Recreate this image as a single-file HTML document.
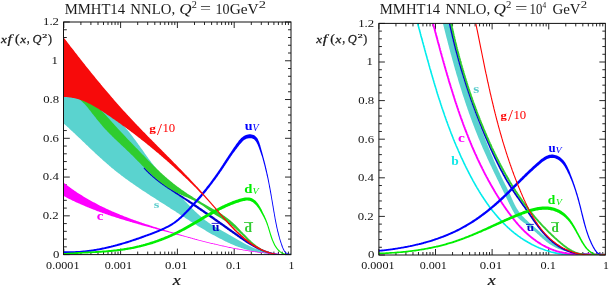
<!DOCTYPE html>
<html><head><meta charset="utf-8"><style>
html,body{margin:0;padding:0;background:#fff;width:610px;height:289px;overflow:hidden}
svg{display:block;will-change:transform}
text{font-family:"Liberation Serif",serif}
.t{font-size:11.5px;fill:#111}
.lb{font-size:11.5px}
.sub{font-size:8.5px}
.ti{font-size:14px;fill:#222}
.sup{font-size:9.5px}
.ax{font-size:12px;fill:#222}
.sup2{font-size:8.5px}
</style></head><body>
<svg xmlns="http://www.w3.org/2000/svg" width="610" height="289" viewBox="0 0 610 289">
<defs>
<clipPath id="cl"><rect x="63.80" y="22.00" width="227.20" height="232.60"/></clipPath>
<clipPath id="cr"><rect x="378.90" y="23.40" width="226.45" height="231.60"/></clipPath>
</defs>
<rect width="610" height="289" fill="#fff"/>
<path d="M63.80 254.60L63.80 248.60M63.80 22.00L63.80 28.00M80.90 254.60L80.90 251.60M80.90 22.00L80.90 25.00M90.90 254.60L90.90 251.60M90.90 22.00L90.90 25.00M98.00 254.60L98.00 251.60M98.00 22.00L98.00 25.00M103.50 254.60L103.50 251.60M103.50 22.00L103.50 25.00M108.00 254.60L108.00 251.60M108.00 22.00L108.00 25.00M111.80 254.60L111.80 251.60M111.80 22.00L111.80 25.00M115.10 254.60L115.10 251.60M115.10 22.00L115.10 25.00M118.00 254.60L118.00 251.60M118.00 22.00L118.00 25.00M120.60 254.60L120.60 248.60M120.60 22.00L120.60 28.00M137.70 254.60L137.70 251.60M137.70 22.00L137.70 25.00M147.70 254.60L147.70 251.60M147.70 22.00L147.70 25.00M154.80 254.60L154.80 251.60M154.80 22.00L154.80 25.00M160.30 254.60L160.30 251.60M160.30 22.00L160.30 25.00M164.80 254.60L164.80 251.60M164.80 22.00L164.80 25.00M168.60 254.60L168.60 251.60M168.60 22.00L168.60 25.00M171.90 254.60L171.90 251.60M171.90 22.00L171.90 25.00M174.80 254.60L174.80 251.60M174.80 22.00L174.80 25.00M177.40 254.60L177.40 248.60M177.40 22.00L177.40 28.00M194.50 254.60L194.50 251.60M194.50 22.00L194.50 25.00M204.50 254.60L204.50 251.60M204.50 22.00L204.50 25.00M211.60 254.60L211.60 251.60M211.60 22.00L211.60 25.00M217.10 254.60L217.10 251.60M217.10 22.00L217.10 25.00M221.60 254.60L221.60 251.60M221.60 22.00L221.60 25.00M225.40 254.60L225.40 251.60M225.40 22.00L225.40 25.00M228.70 254.60L228.70 251.60M228.70 22.00L228.70 25.00M231.60 254.60L231.60 251.60M231.60 22.00L231.60 25.00M234.20 254.60L234.20 248.60M234.20 22.00L234.20 28.00M251.30 254.60L251.30 251.60M251.30 22.00L251.30 25.00M261.30 254.60L261.30 251.60M261.30 22.00L261.30 25.00M268.40 254.60L268.40 251.60M268.40 22.00L268.40 25.00M273.90 254.60L273.90 251.60M273.90 22.00L273.90 25.00M278.40 254.60L278.40 251.60M278.40 22.00L278.40 25.00M282.20 254.60L282.20 251.60M282.20 22.00L282.20 25.00M285.50 254.60L285.50 251.60M285.50 22.00L285.50 25.00M288.40 254.60L288.40 251.60M288.40 22.00L288.40 25.00M63.80 254.60L69.80 254.60M291.00 254.60L285.00 254.60M63.80 246.85L66.80 246.85M291.00 246.85L288.00 246.85M63.80 239.09L66.80 239.09M291.00 239.09L288.00 239.09M63.80 231.34L66.80 231.34M291.00 231.34L288.00 231.34M63.80 223.59L66.80 223.59M291.00 223.59L288.00 223.59M63.80 215.83L69.80 215.83M291.00 215.83L285.00 215.83M63.80 208.08L66.80 208.08M291.00 208.08L288.00 208.08M63.80 200.33L66.80 200.33M291.00 200.33L288.00 200.33M63.80 192.57L66.80 192.57M291.00 192.57L288.00 192.57M63.80 184.82L66.80 184.82M291.00 184.82L288.00 184.82M63.80 177.07L69.80 177.07M291.00 177.07L285.00 177.07M63.80 169.31L66.80 169.31M291.00 169.31L288.00 169.31M63.80 161.56L66.80 161.56M291.00 161.56L288.00 161.56M63.80 153.81L66.80 153.81M291.00 153.81L288.00 153.81M63.80 146.05L66.80 146.05M291.00 146.05L288.00 146.05M63.80 138.30L69.80 138.30M291.00 138.30L285.00 138.30M63.80 130.55L66.80 130.55M291.00 130.55L288.00 130.55M63.80 122.79L66.80 122.79M291.00 122.79L288.00 122.79M63.80 115.04L66.80 115.04M291.00 115.04L288.00 115.04M63.80 107.29L66.80 107.29M291.00 107.29L288.00 107.29M63.80 99.53L69.80 99.53M291.00 99.53L285.00 99.53M63.80 91.78L66.80 91.78M291.00 91.78L288.00 91.78M63.80 84.03L66.80 84.03M291.00 84.03L288.00 84.03M63.80 76.27L66.80 76.27M291.00 76.27L288.00 76.27M63.80 68.52L66.80 68.52M291.00 68.52L288.00 68.52M63.80 60.77L69.80 60.77M291.00 60.77L285.00 60.77M63.80 53.01L66.80 53.01M291.00 53.01L288.00 53.01M63.80 45.26L66.80 45.26M291.00 45.26L288.00 45.26M63.80 37.51L66.80 37.51M291.00 37.51L288.00 37.51M63.80 29.75L66.80 29.75M291.00 29.75L288.00 29.75M63.80 22.00L69.80 22.00M291.00 22.00L285.00 22.00" stroke="#111" stroke-width="0.9" fill="none"/>
<g clip-path="url(#cl)"><polygon points="63.8,94.0 64.8,93.9 65.8,93.9 66.8,93.9 67.9,93.9 68.9,93.9 69.9,94.0 70.9,94.0 71.8,94.1 72.8,94.3 73.8,94.4 74.8,94.6 75.8,94.8 76.7,95.0 77.7,95.3 78.7,95.6 79.6,95.8 80.6,96.1 81.5,96.5 82.5,96.8 83.4,97.2 84.3,97.5 85.3,97.9 86.2,98.3 87.1,98.7 88.0,99.2 89.0,99.6 89.9,100.1 90.8,100.5 91.7,101.0 92.6,101.5 93.4,102.0 94.3,102.5 95.2,103.0 96.1,103.5 97.0,104.1 97.8,104.6 98.7,105.2 99.5,105.7 100.4,106.3 101.2,106.8 102.1,107.4 102.9,107.9 103.7,108.5 104.6,109.1 105.4,109.7 106.2,110.3 107.0,110.9 107.8,111.5 108.6,112.1 109.4,112.7 110.2,113.3 111.0,114.0 111.8,114.6 112.5,115.2 113.3,115.9 114.1,116.5 114.8,117.2 115.6,117.9 116.3,118.5 117.0,119.2 117.8,119.9 118.5,120.6 119.2,121.3 119.9,122.0 120.6,122.7 121.3,123.4 122.0,124.1 122.7,124.8 123.4,125.5 124.1,126.3 124.8,127.0 125.4,127.7 126.1,128.5 126.7,129.2 127.4,130.0 128.0,130.8 128.7,131.5 129.3,132.3 129.9,133.1 130.6,133.9 131.2,134.7 131.8,135.5 132.4,136.3 133.0,137.1 133.6,137.9 134.2,138.7 134.8,139.5 135.4,140.3 136.0,141.1 136.6,141.9 137.2,142.7 137.8,143.6 138.4,144.4 139.0,145.2 139.6,146.0 140.1,146.8 140.7,147.7 141.3,148.5 141.9,149.3 142.5,150.1 143.1,151.0 143.7,151.8 144.2,152.6 144.8,153.4 145.4,154.3 146.0,155.1 146.6,155.9 147.2,156.7 147.8,157.5 148.4,158.4 149.0,159.2 149.6,160.0 150.2,160.8 150.8,161.6 151.4,162.4 152.0,163.2 152.7,164.0 153.3,164.8 153.9,165.6 154.5,166.4 155.2,167.1 155.8,167.9 156.4,168.7 157.1,169.5 157.7,170.3 158.3,171.0 159.0,171.8 159.6,172.6 160.3,173.4 160.9,174.1 161.6,174.9 162.2,175.7 162.9,176.4 163.6,177.2 164.2,177.9 164.9,178.7 165.5,179.5 166.2,180.2 166.9,181.0 167.5,181.7 168.2,182.5 168.9,183.2 169.5,184.0 170.2,184.7 170.9,185.5 171.6,186.2 172.2,187.0 172.9,187.7 173.6,188.5 174.3,189.2 174.9,190.0 175.6,190.7 176.3,191.4 177.0,192.2 177.7,192.9 178.3,193.7 179.0,194.4 179.7,195.2 180.4,195.9 181.1,196.7 181.7,197.4 182.4,198.2 183.1,198.9 183.8,199.6 184.5,200.4 185.1,201.1 185.8,201.9 186.5,202.6 187.2,203.3 187.9,204.1 188.6,204.8 189.3,205.5 190.0,206.2 190.7,207.0 191.4,207.7 192.1,208.4 192.8,209.1 193.5,209.8 194.2,210.5 195.0,211.2 195.7,211.9 196.4,212.6 197.2,213.3 197.9,213.9 198.6,214.6 199.4,215.3 200.1,215.9 200.9,216.6 201.6,217.2 202.4,217.9 203.2,218.5 203.9,219.1 204.7,219.8 205.5,220.4 206.3,221.0 207.1,221.6 207.9,222.2 208.7,222.7 209.5,223.3 210.4,223.9 211.2,224.4 212.0,225.0 212.9,225.5 213.7,226.0 214.6,226.6 215.5,227.1 216.3,227.6 217.2,228.1 218.1,228.6 219.0,229.1 219.9,229.6 220.8,230.0 221.6,230.5 222.5,231.0 223.4,231.5 224.3,232.0 225.2,232.5 226.1,233.0 227.0,233.4 227.8,233.9 228.7,234.4 229.6,234.9 230.5,235.5 231.3,236.0 232.2,236.5 233.1,237.0 233.9,237.5 234.8,238.1 235.6,238.6 236.5,239.1 237.4,239.6 238.2,240.1 239.1,240.6 240.0,241.1 240.9,241.6 241.8,242.1 242.6,242.6 243.5,243.0 244.4,243.5 245.3,244.0 246.2,244.4 247.1,244.9 248.0,245.3 248.9,245.7 249.8,246.2 250.7,246.6 251.6,247.0 252.6,247.4 253.5,247.8 254.4,248.2 255.3,248.6 256.3,248.9 257.2,249.3 258.1,249.6 259.1,250.0 260.0,250.3 260.9,250.6 261.9,250.9 262.8,251.2 263.8,251.5 264.7,251.8 265.7,252.0 266.7,252.3 267.6,252.5 268.6,252.8 269.6,253.0 270.6,253.2 271.5,253.4 272.5,253.6 273.5,253.7 274.5,253.9 275.5,254.0 276.5,254.1 277.5,254.2 278.5,254.3 279.5,254.4 280.5,254.5 281.5,254.5 282.5,254.6 283.6,254.6 284.6,254.6 285.6,254.6 286.6,254.6 287.7,254.5 288.7,254.5 289.8,254.4 290.8,254.3 290.8,254.3 289.8,254.4 288.8,254.4 287.8,254.4 286.7,254.5 285.7,254.5 284.7,254.5 283.7,254.5 282.7,254.6 281.7,254.6 280.7,254.5 279.7,254.5 278.6,254.5 277.6,254.5 276.6,254.4 275.6,254.4 274.6,254.3 273.6,254.3 272.6,254.2 271.6,254.1 270.6,254.1 269.6,254.0 268.6,253.9 267.6,253.8 266.6,253.6 265.6,253.5 264.6,253.4 263.6,253.3 262.6,253.1 261.6,253.0 260.6,252.8 259.7,252.6 258.7,252.5 257.7,252.3 256.7,252.1 255.7,251.9 254.8,251.7 253.8,251.5 252.8,251.2 251.8,251.0 250.9,250.8 249.9,250.5 248.9,250.3 248.0,250.0 247.0,249.7 246.0,249.5 245.1,249.2 244.1,248.9 243.2,248.6 242.2,248.3 241.3,247.9 240.3,247.6 239.4,247.3 238.5,246.9 237.5,246.6 236.6,246.2 235.7,245.9 234.7,245.5 233.8,245.1 232.9,244.7 232.0,244.3 231.0,243.9 230.1,243.5 229.2,243.1 228.3,242.7 227.4,242.2 226.5,241.8 225.6,241.4 224.7,240.9 223.8,240.5 222.9,240.0 222.0,239.6 221.1,239.1 220.2,238.7 219.3,238.2 218.4,237.7 217.5,237.3 216.6,236.8 215.7,236.3 214.9,235.8 214.0,235.3 213.1,234.9 212.2,234.4 211.3,233.9 210.4,233.4 209.6,232.9 208.7,232.4 207.8,231.9 207.0,231.4 206.1,230.9 205.2,230.3 204.4,229.8 203.5,229.3 202.6,228.8 201.8,228.3 200.9,227.8 200.0,227.2 199.2,226.7 198.3,226.2 197.5,225.7 196.6,225.1 195.8,224.6 194.9,224.1 194.1,223.5 193.2,223.0 192.4,222.5 191.5,221.9 190.7,221.4 189.8,220.9 189.0,220.3 188.2,219.8 187.3,219.3 186.5,218.7 185.6,218.2 184.8,217.6 184.0,217.1 183.1,216.5 182.3,216.0 181.4,215.5 180.6,214.9 179.8,214.4 178.9,213.8 178.1,213.3 177.2,212.7 176.4,212.2 175.6,211.6 174.7,211.1 173.9,210.6 173.0,210.0 172.2,209.5 171.3,208.9 170.5,208.4 169.7,207.8 168.8,207.3 168.0,206.8 167.1,206.2 166.3,205.7 165.4,205.1 164.6,204.6 163.7,204.1 162.9,203.5 162.0,203.0 161.2,202.4 160.3,201.9 159.5,201.4 158.7,200.8 157.8,200.3 157.0,199.7 156.1,199.2 155.3,198.6 154.4,198.1 153.6,197.6 152.7,197.0 151.9,196.5 151.0,195.9 150.2,195.4 149.3,194.8 148.5,194.3 147.7,193.7 146.8,193.2 146.0,192.6 145.1,192.1 144.3,191.5 143.4,191.0 142.6,190.4 141.8,189.9 140.9,189.3 140.1,188.7 139.3,188.2 138.4,187.6 137.6,187.0 136.8,186.5 135.9,185.9 135.1,185.3 134.3,184.8 133.5,184.2 132.6,183.6 131.8,183.0 131.0,182.5 130.2,181.9 129.3,181.3 128.5,180.7 127.7,180.1 126.9,179.5 126.1,179.0 125.3,178.4 124.5,177.8 123.7,177.2 122.9,176.6 122.1,176.0 121.3,175.4 120.5,174.7 119.7,174.1 118.9,173.5 118.1,172.9 117.3,172.3 116.5,171.7 115.7,171.0 114.9,170.4 114.1,169.8 113.4,169.1 112.6,168.5 111.8,167.9 111.0,167.2 110.3,166.6 109.5,165.9 108.8,165.3 108.0,164.6 107.2,164.0 106.5,163.3 105.7,162.6 105.0,162.0 104.2,161.3 103.5,160.7 102.7,160.0 102.0,159.3 101.2,158.6 100.5,158.0 99.7,157.3 99.0,156.6 98.3,155.9 97.5,155.2 96.8,154.6 96.0,153.9 95.3,153.2 94.6,152.5 93.8,151.8 93.1,151.1 92.4,150.4 91.6,149.7 90.9,149.1 90.2,148.4 89.5,147.7 88.7,147.0 88.0,146.3 87.3,145.6 86.5,144.9 85.8,144.2 85.1,143.5 84.4,142.8 83.6,142.1 82.9,141.4 82.2,140.7 81.5,140.0 80.7,139.3 80.0,138.6 79.3,137.9 78.5,137.2 77.8,136.6 77.1,135.9 76.4,135.2 75.6,134.5 74.9,133.8 74.2,133.1 73.4,132.4 72.7,131.7 72.0,131.0 71.2,130.4 70.5,129.7 69.7,129.0 69.0,128.3 68.3,127.6 67.5,127.0 66.8,126.3 66.0,125.6 65.3,124.9 64.5,124.3 63.8,123.6" fill="#5ad3cf" />
<polygon points="143.5,168.1 144.2,168.9 144.9,169.7 145.6,170.4 146.3,171.2 147.0,171.9 147.7,172.6 148.5,173.4 149.2,174.1 150.0,174.8 150.7,175.5 151.5,176.1 152.2,176.8 153.0,177.5 153.7,178.1 154.5,178.8 155.3,179.4 156.1,180.1 156.9,180.7 157.7,181.3 158.5,181.9 159.3,182.5 160.1,183.2 160.9,183.7 161.7,184.3 162.5,184.9 163.4,185.5 164.2,186.1 165.0,186.7 165.8,187.2 166.7,187.8 167.5,188.4 168.4,188.9 169.2,189.5 170.0,190.1 170.9,190.6 171.7,191.2 172.6,191.7 173.4,192.3 174.2,192.8 175.1,193.4 175.9,193.9 176.8,194.5 177.6,195.0 178.5,195.6 179.3,196.2 180.1,196.7 181.0,197.3 181.8,197.9 182.6,198.4 183.5,199.0 184.3,199.6 185.1,200.1 186.0,200.7 186.8,201.3 187.6,201.8 188.4,202.4 189.3,203.0 190.1,203.6 190.9,204.1 191.8,204.7 192.6,205.3 193.4,205.8 194.3,206.4 195.1,207.0 195.9,207.5 196.8,208.1 197.6,208.7 198.4,209.3 199.3,209.8 200.1,210.4 200.9,211.0 201.8,211.6 202.6,212.1 203.4,212.7 204.3,213.3 205.1,213.9 205.9,214.5 206.7,215.0 207.6,215.6 208.4,216.2 209.2,216.8 210.1,217.4 210.9,217.9 211.7,218.5 212.5,219.1 213.4,219.7 214.2,220.3 215.0,220.9 215.9,221.4 216.7,222.0 217.5,222.6 218.3,223.2 219.2,223.8 220.0,224.4 220.8,225.0 221.7,225.5 222.5,226.1 223.3,226.7 224.1,227.3 225.0,227.9 225.8,228.5 226.6,229.1 227.4,229.7 228.3,230.3 229.1,230.8 229.9,231.4 230.8,232.0 231.6,232.6 232.4,233.2 233.3,233.8 234.1,234.3 234.9,234.9 235.8,235.5 236.6,236.1 237.4,236.7 238.3,237.3 239.1,237.8 239.9,238.4 240.8,239.0 241.6,239.6 242.4,240.1 243.3,240.7 244.1,241.3 245.0,241.8 245.8,242.4 246.7,242.9 247.5,243.5 248.4,244.0 249.2,244.5 250.1,245.1 251.0,245.6 251.8,246.1 252.7,246.6 253.6,247.1 254.5,247.6 255.3,248.1 256.2,248.5 257.1,249.0 258.0,249.4 258.9,249.8 259.8,250.3 260.7,250.7 261.7,251.0 262.6,251.4 263.5,251.8 264.4,252.1 265.4,252.5 266.3,252.8 267.3,253.1 268.2,253.4 269.2,253.7 270.1,253.9 271.1,254.2 272.1,254.4 273.1,254.6 274.1,254.8 275.1,255.0 276.1,255.1 277.1,255.2 278.1,255.4 279.1,255.4 280.2,255.5 281.2,255.6 282.2,255.6 283.3,255.6 284.4,255.6 285.4,255.6 286.5,255.5 287.6,255.4 288.7,255.3 289.8,255.2 290.9,255.0 290.7,253.6 289.6,253.8 288.5,253.9 287.5,254.0 286.4,254.0 285.4,254.1 284.3,254.1 283.3,254.1 282.3,254.1 281.3,254.1 280.3,254.0 279.3,253.9 278.3,253.8 277.3,253.7 276.3,253.5 275.3,253.4 274.4,253.2 273.4,253.0 272.5,252.8 271.5,252.5 270.6,252.3 269.7,252.0 268.7,251.7 267.8,251.4 266.9,251.1 266.0,250.8 265.1,250.4 264.2,250.1 263.3,249.7 262.4,249.3 261.5,248.9 260.6,248.5 259.8,248.1 258.9,247.6 258.0,247.2 257.2,246.7 256.3,246.3 255.4,245.8 254.6,245.3 253.7,244.8 252.9,244.3 252.0,243.8 251.2,243.3 250.3,242.8 249.5,242.3 248.6,241.7 247.8,241.2 247.0,240.6 246.1,240.1 245.3,239.5 244.5,238.9 243.6,238.4 242.8,237.8 242.0,237.2 241.2,236.6 240.3,236.1 239.5,235.5 238.7,234.9 237.9,234.3 237.0,233.7 236.2,233.1 235.4,232.5 234.6,231.9 233.7,231.3 232.9,230.7 232.1,230.2 231.3,229.6 230.4,229.0 229.6,228.4 228.8,227.8 227.9,227.2 227.1,226.6 226.3,226.0 225.5,225.4 224.6,224.8 223.8,224.3 223.0,223.7 222.2,223.1 221.3,222.5 220.5,221.9 219.7,221.3 218.8,220.7 218.0,220.2 217.2,219.6 216.4,219.0 215.5,218.4 214.7,217.8 213.9,217.2 213.0,216.6 212.2,216.1 211.4,215.5 210.6,214.9 209.7,214.3 208.9,213.7 208.1,213.1 207.2,212.6 206.4,212.0 205.6,211.4 204.7,210.8 203.9,210.3 203.1,209.7 202.2,209.1 201.4,208.5 200.6,207.9 199.7,207.4 198.9,206.8 198.1,206.2 197.2,205.7 196.4,205.1 195.5,204.5 194.7,204.0 193.9,203.4 193.0,202.8 192.2,202.3 191.3,201.7 190.5,201.2 189.6,200.6 188.8,200.1 187.9,199.5 187.1,199.0 186.2,198.4 185.4,197.9 184.5,197.4 183.7,196.8 182.8,196.3 182.0,195.7 181.1,195.2 180.2,194.7 179.4,194.2 178.5,193.6 177.7,193.1 176.8,192.6 176.0,192.0 175.1,191.5 174.3,190.9 173.4,190.4 172.6,189.9 171.7,189.3 170.9,188.8 170.0,188.2 169.2,187.7 168.3,187.1 167.5,186.6 166.7,186.0 165.8,185.5 165.0,184.9 164.2,184.3 163.4,183.8 162.5,183.2 161.7,182.6 160.9,182.0 160.1,181.4 159.3,180.8 158.5,180.2 157.7,179.6 156.9,179.0 156.2,178.4 155.4,177.8 154.6,177.1 153.8,176.5 153.1,175.8 152.3,175.2 151.6,174.5 150.8,173.8 150.1,173.2 149.4,172.5 148.6,171.8 147.9,171.0 147.2,170.3 146.5,169.6 145.8,168.8 145.1,168.1 144.4,167.3" fill="#0000cc"/>
<polygon points="76.5,97.5 77.5,97.7 78.5,98.0 79.5,98.2 80.5,98.5 81.5,98.8 82.5,99.1 83.5,99.4 84.4,99.8 85.4,100.2 86.3,100.6 87.2,101.0 88.1,101.4 89.0,101.8 89.9,102.3 90.8,102.8 91.7,103.3 92.5,103.8 93.3,104.3 94.2,104.9 95.0,105.5 95.8,106.0 96.6,106.6 97.4,107.2 98.2,107.9 98.9,108.5 99.7,109.1 100.4,109.8 101.2,110.5 101.9,111.2 102.6,111.9 103.3,112.6 104.0,113.3 104.7,114.0 105.4,114.7 106.1,115.5 106.8,116.2 107.4,116.9 108.1,117.7 108.8,118.4 109.5,119.2 110.1,119.9 110.8,120.7 111.5,121.4 112.1,122.2 112.8,123.0 113.5,123.7 114.2,124.4 114.8,125.2 115.5,125.9 116.2,126.7 116.9,127.4 117.5,128.2 118.2,128.9 118.9,129.7 119.6,130.4 120.3,131.1 120.9,131.9 121.6,132.6 122.3,133.3 123.0,134.1 123.7,134.8 124.4,135.5 125.1,136.3 125.8,137.0 126.4,137.7 127.1,138.4 127.8,139.2 128.5,139.9 129.2,140.6 129.9,141.4 130.6,142.1 131.3,142.8 132.0,143.5 132.7,144.3 133.4,145.0 134.1,145.7 134.8,146.4 135.5,147.2 136.2,147.9 136.9,148.6 137.6,149.3 138.3,150.0 139.0,150.8 139.7,151.5 140.4,152.2 141.1,152.9 141.8,153.7 142.5,154.4 143.2,155.1 143.9,155.8 144.6,156.6 145.3,157.3 146.0,158.0 146.7,158.7 147.4,159.4 148.1,160.2 148.8,160.9 149.5,161.6 150.2,162.3 150.9,163.0 151.6,163.8 152.4,164.5 153.1,165.2 153.8,165.9 154.5,166.6 155.2,167.3 156.0,168.0 156.7,168.7 157.4,169.4 158.1,170.1 158.9,170.8 159.6,171.5 160.3,172.2 161.1,172.9 161.8,173.6 162.5,174.2 163.3,174.9 164.0,175.6 164.8,176.3 165.5,176.9 166.3,177.6 167.1,178.3 167.8,178.9 168.6,179.6 169.4,180.2 170.1,180.8 170.9,181.5 171.7,182.1 172.5,182.8 173.3,183.4 174.0,184.0 174.8,184.6 175.6,185.2 176.4,185.8 177.2,186.4 178.0,187.0 178.8,187.6 179.7,188.2 180.5,188.8 181.3,189.4 182.1,190.0 182.9,190.5 183.8,191.1 184.6,191.7 185.4,192.2 186.3,192.8 187.1,193.4 187.9,193.9 188.8,194.5 189.6,195.0 190.5,195.6 191.3,196.1 192.2,196.6 193.0,197.2 193.9,197.7 194.7,198.2 195.6,198.8 196.5,199.3 197.3,199.8 198.2,200.3 199.0,200.8 199.9,201.3 200.8,201.9 201.6,202.4 202.5,202.9 203.4,203.4 204.3,203.9 205.1,204.4 206.0,204.9 206.9,205.4 207.8,205.9 208.6,206.4 209.5,206.9 210.4,207.4 211.3,207.9 212.1,208.4 213.0,208.9 213.9,209.4 214.7,209.9 215.6,210.4 216.5,210.9 217.3,211.4 218.2,211.9 219.0,212.4 219.9,213.0 220.7,213.5 221.6,214.1 222.4,214.6 223.2,215.2 224.1,215.7 224.9,216.3 225.7,216.9 226.5,217.5 227.3,218.1 228.1,218.7 228.9,219.3 229.7,219.9 230.4,220.6 231.2,221.2 232.0,221.9 232.7,222.6 233.5,223.2 234.2,223.9 234.9,224.6 235.7,225.3 236.4,226.0 237.1,226.8 237.8,227.5 238.5,228.2 239.2,228.9 239.9,229.7 240.6,230.4 241.3,231.2 242.0,231.9 242.7,232.6 243.4,233.4 244.1,234.1 244.9,234.8 245.6,235.6 246.3,236.3 247.0,237.0 247.7,237.7 248.4,238.4 249.1,239.2 249.8,239.8 250.6,240.5 251.3,241.2 252.0,241.9 252.8,242.6 253.5,243.2 254.3,243.8 255.1,244.5 255.9,245.1 256.6,245.7 257.4,246.3 258.2,246.8 259.1,247.4 259.9,247.9 260.7,248.5 261.6,249.0 262.4,249.4 263.3,249.9 264.2,250.4 265.1,250.8 266.0,251.2 266.9,251.6 267.8,251.9 268.7,252.3 269.6,252.6 270.6,252.9 271.5,253.2 272.5,253.5 273.5,253.7 274.4,254.0 275.4,254.2 276.4,254.3 277.4,254.5 278.4,254.6 279.4,254.7 280.4,254.8 281.4,254.9 282.5,254.9 283.5,254.9 284.5,254.9 285.6,254.9 286.6,254.8 287.7,254.7 288.7,254.6 289.8,254.5 290.8,254.3 290.8,254.3 289.8,254.4 288.8,254.5 287.8,254.7 286.7,254.7 285.7,254.8 284.7,254.8 283.7,254.9 282.6,254.9 281.6,254.9 280.6,254.9 279.6,254.8 278.6,254.8 277.6,254.7 276.5,254.6 275.5,254.5 274.5,254.3 273.5,254.2 272.5,254.0 271.6,253.8 270.6,253.6 269.6,253.4 268.6,253.1 267.7,252.8 266.7,252.5 265.8,252.2 264.9,251.9 263.9,251.5 263.0,251.1 262.1,250.7 261.2,250.3 260.4,249.9 259.5,249.4 258.7,248.9 257.8,248.4 257.0,247.9 256.2,247.3 255.4,246.8 254.6,246.2 253.8,245.6 253.0,245.0 252.2,244.4 251.5,243.8 250.7,243.1 250.0,242.5 249.2,241.8 248.5,241.1 247.7,240.4 247.0,239.7 246.3,239.0 245.5,238.3 244.8,237.6 244.1,236.9 243.4,236.2 242.6,235.5 241.9,234.8 241.2,234.1 240.5,233.4 239.7,232.7 239.0,232.0 238.3,231.3 237.5,230.6 236.8,229.9 236.1,229.2 235.3,228.5 234.5,227.9 233.8,227.2 233.0,226.6 232.2,225.9 231.4,225.3 230.6,224.7 229.8,224.1 229.0,223.5 228.2,222.9 227.4,222.4 226.5,221.8 225.7,221.3 224.9,220.8 224.0,220.2 223.2,219.7 222.3,219.2 221.5,218.6 220.6,218.1 219.7,217.6 218.9,217.1 218.0,216.5 217.2,216.0 216.3,215.5 215.5,214.9 214.7,214.4 213.8,213.8 213.0,213.2 212.2,212.7 211.4,212.1 210.6,211.5 209.7,210.9 208.9,210.3 208.1,209.7 207.3,209.1 206.5,208.5 205.7,207.9 204.9,207.3 204.1,206.7 203.3,206.1 202.4,205.6 201.6,205.0 200.8,204.5 199.9,203.9 199.1,203.4 198.2,202.9 197.4,202.4 196.5,201.9 195.6,201.5 194.7,201.0 193.8,200.5 192.9,200.1 192.0,199.7 191.1,199.2 190.2,198.8 189.2,198.4 188.3,198.0 187.4,197.6 186.5,197.2 185.5,196.8 184.6,196.4 183.7,196.0 182.8,195.6 181.8,195.2 180.9,194.7 180.0,194.3 179.1,193.9 178.2,193.4 177.3,193.0 176.4,192.5 175.5,192.0 174.6,191.5 173.7,191.1 172.9,190.6 172.0,190.1 171.1,189.5 170.3,189.0 169.4,188.5 168.6,188.0 167.7,187.4 166.9,186.9 166.0,186.3 165.2,185.7 164.4,185.2 163.6,184.6 162.8,184.0 162.0,183.4 161.2,182.8 160.4,182.2 159.6,181.5 158.8,180.9 158.0,180.3 157.3,179.7 156.5,179.0 155.7,178.4 155.0,177.7 154.2,177.0 153.5,176.4 152.7,175.7 152.0,175.0 151.3,174.3 150.5,173.6 149.8,173.0 149.1,172.3 148.3,171.6 147.6,170.9 146.9,170.2 146.2,169.5 145.4,168.8 144.7,168.0 144.0,167.3 143.3,166.6 142.6,165.9 141.9,165.2 141.2,164.5 140.5,163.7 139.8,163.0 139.0,162.3 138.3,161.6 137.6,160.9 136.9,160.1 136.2,159.4 135.5,158.7 134.8,158.0 134.1,157.3 133.4,156.5 132.7,155.8 131.9,155.1 131.2,154.4 130.5,153.7 129.8,153.0 129.1,152.3 128.3,151.6 127.6,150.9 126.9,150.2 126.1,149.5 125.4,148.8 124.7,148.1 124.0,147.4 123.2,146.7 122.5,146.1 121.8,145.4 121.0,144.7 120.3,144.0 119.6,143.3 118.8,142.6 118.1,141.9 117.4,141.2 116.6,140.5 115.9,139.8 115.2,139.2 114.4,138.5 113.7,137.8 113.0,137.1 112.3,136.4 111.6,135.6 110.9,134.9 110.2,134.2 109.4,133.5 108.7,132.8 108.0,132.1 107.4,131.4 106.7,130.6 106.0,129.9 105.3,129.2 104.6,128.4 103.9,127.7 103.3,126.9 102.6,126.2 102.0,125.4 101.3,124.6 100.7,123.9 100.0,123.1 99.4,122.3 98.7,121.5 98.1,120.8 97.4,120.0 96.8,119.2 96.2,118.4 95.6,117.6 94.9,116.8 94.3,116.0 93.7,115.2 93.1,114.5 92.4,113.7 91.8,112.9 91.2,112.1 90.6,111.3 90.0,110.5 89.3,109.7 88.7,108.9 88.1,108.1 87.4,107.3 86.8,106.6 86.1,105.8 85.5,105.1 84.8,104.3 84.1,103.6 83.4,102.9 82.7,102.2 82.0,101.5 81.2,100.8 80.5,100.1 79.7,99.5" fill="#2fcc2f" />
<polygon points="63.8,182.8 64.6,183.4 65.4,184.1 66.2,184.7 67.0,185.3 67.9,185.9 68.7,186.5 69.5,187.1 70.3,187.7 71.1,188.3 72.0,188.9 72.8,189.5 73.6,190.1 74.5,190.7 75.3,191.2 76.2,191.8 77.0,192.4 77.8,192.9 78.7,193.5 79.5,194.0 80.4,194.6 81.2,195.1 82.1,195.6 83.0,196.2 83.8,196.7 84.7,197.2 85.5,197.7 86.4,198.2 87.3,198.7 88.1,199.2 89.0,199.7 89.9,200.2 90.8,200.7 91.6,201.2 92.5,201.7 93.4,202.2 94.3,202.6 95.2,203.1 96.1,203.6 97.0,204.0 97.8,204.5 98.7,205.0 99.6,205.4 100.5,205.9 101.4,206.3 102.3,206.7 103.2,207.2 104.1,207.6 105.0,208.1 105.9,208.5 106.9,208.9 107.8,209.3 108.7,209.7 109.6,210.2 110.5,210.6 111.4,211.0 112.3,211.4 113.3,211.8 114.2,212.2 115.1,212.6 116.0,213.0 116.9,213.3 117.9,213.7 118.8,214.1 119.7,214.5 120.6,214.9 121.6,215.3 122.5,215.6 123.4,216.0 124.4,216.4 125.3,216.7 126.3,217.1 127.2,217.4 128.1,217.8 129.1,218.2 130.0,218.5 131.0,218.9 131.9,219.2 132.8,219.6 133.8,219.9 134.7,220.2 135.7,220.6 136.6,220.9 137.6,221.2 138.5,221.6 139.5,221.9 140.4,222.2 141.4,222.6 142.3,222.9 143.3,223.2 144.2,223.5 145.2,223.9 146.2,224.2 147.1,224.5 148.1,224.8 149.0,225.1 150.0,225.4 151.0,225.7 151.9,226.0 152.9,226.4 153.8,226.7 154.8,227.0 155.8,227.3 156.7,227.6 157.7,227.9 158.7,228.2 159.6,228.5 160.6,228.8 161.6,229.1 162.5,229.4 163.5,229.6 164.5,229.9 165.4,230.2 166.4,230.5 167.4,230.8 168.3,231.1 169.3,231.4 170.3,231.7 171.2,232.0 172.2,232.3 173.2,232.5 174.1,232.8 175.1,233.1 176.1,233.4 177.1,233.7 178.0,234.0 179.0,234.3 180.0,234.5 180.9,234.8 181.9,235.1 182.9,235.4 183.9,235.6 184.8,235.9 185.8,236.2 186.8,236.5 187.7,236.7 188.7,237.0 189.7,237.3 190.7,237.6 191.6,237.8 192.6,238.1 193.6,238.4 194.6,238.6 195.5,238.9 196.5,239.1 197.5,239.4 198.5,239.7 199.4,239.9 200.4,240.2 201.4,240.4 202.4,240.7 203.4,240.9 204.3,241.2 205.3,241.4 206.3,241.7 207.3,241.9 208.2,242.2 209.2,242.4 210.2,242.7 211.2,242.9 212.2,243.1 213.1,243.4 214.1,243.6 215.1,243.8 216.1,244.1 217.1,244.3 218.1,244.5 219.0,244.7 220.0,245.0 221.0,245.2 222.0,245.4 223.0,245.6 224.0,245.8 224.9,246.0 225.9,246.3 226.9,246.5 227.9,246.7 228.9,246.9 229.9,247.1 230.9,247.3 231.8,247.5 232.8,247.7 233.8,247.9 234.8,248.1 235.8,248.2 236.8,248.4 237.8,248.6 238.8,248.8 239.8,249.0 240.7,249.2 241.7,249.3 242.7,249.5 243.7,249.7 244.7,249.8 245.7,250.0 246.7,250.2 247.7,250.3 248.7,250.5 249.7,250.6 250.7,250.8 251.7,250.9 252.7,251.1 253.7,251.2 254.7,251.4 255.7,251.5 256.6,251.6 257.6,251.8 258.6,251.9 259.6,252.0 260.6,252.1 261.6,252.2 262.6,252.4 263.6,252.5 264.6,252.6 265.6,252.7 266.6,252.8 267.6,252.9 268.6,253.0 269.6,253.1 270.6,253.2 271.7,253.3 272.7,253.4 273.7,253.4 274.7,253.5 275.7,253.6 276.7,253.7 277.7,253.7 278.7,253.8 279.7,253.9 280.7,253.9 281.7,254.0 282.7,254.0 283.7,254.1 284.7,254.1 285.7,254.2 286.8,254.2 287.8,254.2 288.8,254.3 289.8,254.3 290.8,254.3 290.8,254.3 289.8,254.3 288.8,254.3 287.7,254.3 286.7,254.3 285.7,254.3 284.7,254.3 283.7,254.3 282.7,254.3 281.7,254.3 280.7,254.2 279.6,254.2 278.6,254.2 277.6,254.1 276.6,254.1 275.6,254.0 274.6,254.0 273.6,253.9 272.6,253.9 271.6,253.8 270.6,253.7 269.6,253.7 268.6,253.6 267.6,253.5 266.6,253.4 265.6,253.3 264.6,253.2 263.6,253.1 262.6,253.0 261.6,252.9 260.6,252.8 259.6,252.7 258.6,252.6 257.6,252.5 256.6,252.3 255.6,252.2 254.6,252.1 253.6,252.0 252.6,251.8 251.6,251.7 250.6,251.5 249.6,251.4 248.6,251.2 247.6,251.1 246.6,250.9 245.6,250.8 244.6,250.6 243.7,250.5 242.7,250.3 241.7,250.1 240.7,249.9 239.7,249.8 238.7,249.6 237.7,249.4 236.7,249.2 235.8,249.0 234.8,248.8 233.8,248.7 232.8,248.5 231.8,248.3 230.8,248.1 229.8,247.9 228.9,247.7 227.9,247.5 226.9,247.2 225.9,247.0 224.9,246.8 223.9,246.6 223.0,246.4 222.0,246.2 221.0,246.0 220.0,245.7 219.0,245.5 218.1,245.3 217.1,245.1 216.1,244.8 215.1,244.6 214.1,244.4 213.2,244.1 212.2,243.9 211.2,243.7 210.2,243.4 209.2,243.2 208.3,242.9 207.3,242.7 206.3,242.4 205.3,242.2 204.3,242.0 203.4,241.7 202.4,241.5 201.4,241.2 200.4,241.0 199.5,240.7 198.5,240.4 197.5,240.2 196.5,239.9 195.6,239.7 194.6,239.4 193.6,239.2 192.6,238.9 191.7,238.6 190.7,238.4 189.7,238.1 188.7,237.9 187.7,237.6 186.8,237.3 185.8,237.1 184.8,236.8 183.8,236.6 182.9,236.3 181.9,236.0 180.9,235.8 179.9,235.5 179.0,235.2 178.0,235.0 177.0,234.7 176.0,234.4 175.1,234.2 174.1,233.9 173.1,233.6 172.1,233.4 171.2,233.1 170.2,232.8 169.2,232.6 168.2,232.3 167.3,232.1 166.3,231.8 165.3,231.5 164.3,231.3 163.4,231.0 162.4,230.7 161.4,230.5 160.4,230.2 159.5,230.0 158.5,229.7 157.5,229.4 156.5,229.2 155.6,228.9 154.6,228.6 153.6,228.4 152.6,228.1 151.7,227.9 150.7,227.6 149.7,227.3 148.7,227.1 147.8,226.8 146.8,226.5 145.8,226.3 144.8,226.0 143.9,225.7 142.9,225.4 141.9,225.2 141.0,224.9 140.0,224.6 139.0,224.4 138.0,224.1 137.1,223.8 136.1,223.5 135.1,223.3 134.2,223.0 133.2,222.7 132.2,222.4 131.3,222.1 130.3,221.9 129.3,221.6 128.4,221.3 127.4,221.0 126.4,220.7 125.5,220.4 124.5,220.1 123.5,219.8 122.6,219.5 121.6,219.2 120.7,218.9 119.7,218.7 118.7,218.3 117.8,218.0 116.8,217.7 115.9,217.4 114.9,217.1 113.9,216.8 113.0,216.5 112.0,216.2 111.1,215.9 110.1,215.6 109.2,215.2 108.2,214.9 107.3,214.6 106.3,214.3 105.4,213.9 104.4,213.6 103.5,213.3 102.5,212.9 101.6,212.6 100.6,212.2 99.7,211.9 98.8,211.6 97.8,211.2 96.9,210.9 95.9,210.5 95.0,210.1 94.1,209.8 93.1,209.4 92.2,209.1 91.3,208.7 90.3,208.3 89.4,207.9 88.5,207.6 87.5,207.2 86.6,206.8 85.7,206.4 84.7,206.0 83.8,205.6 82.9,205.2 82.0,204.8 81.1,204.4 80.1,204.0 79.2,203.6 78.3,203.2 77.4,202.8 76.5,202.4 75.5,202.0 74.6,201.5 73.7,201.1 72.8,200.7 71.9,200.2 71.0,199.8 70.1,199.3 69.2,198.9 68.3,198.4 67.4,198.0 66.5,197.5 65.6,197.1 64.7,196.6 63.8,196.1" fill="#ff00ff" />
<polygon points="63.8,253.1 64.8,253.2 65.8,253.2 66.9,253.2 67.9,253.2 68.9,253.2 70.0,253.2 71.0,253.2 72.0,253.2 73.0,253.1 74.1,253.1 75.1,253.1 76.1,253.0 77.1,253.0 78.1,252.9 79.1,252.8 80.1,252.8 81.1,252.7 82.2,252.6 83.2,252.5 84.2,252.4 85.2,252.3 86.2,252.2 87.2,252.1 88.2,252.0 89.2,251.8 90.2,251.7 91.2,251.6 92.2,251.4 93.2,251.3 94.1,251.1 95.1,251.0 96.1,250.8 97.1,250.6 98.1,250.4 99.1,250.3 100.1,250.1 101.1,249.9 102.0,249.7 103.0,249.5 104.0,249.3 105.0,249.1 106.0,248.9 106.9,248.6 107.9,248.4 108.9,248.2 109.9,248.0 110.8,247.7 111.8,247.5 112.8,247.2 113.7,247.0 114.7,246.8 115.7,246.5 116.7,246.2 117.6,246.0 118.6,245.7 119.6,245.4 120.5,245.2 121.5,244.9 122.5,244.6 123.4,244.3 124.4,244.0 125.3,243.8 126.3,243.5 127.3,243.2 128.2,242.9 129.2,242.6 130.2,242.3 131.1,242.0 132.1,241.6 133.0,241.3 134.0,241.0 134.9,240.7 135.9,240.4 136.9,240.0 137.8,239.7 138.8,239.4 139.7,239.0 140.7,238.7 141.6,238.4 142.6,238.0 143.6,237.7 144.5,237.3 145.5,237.0 146.4,236.6 147.4,236.3 148.3,235.9 149.3,235.6 150.2,235.2 151.2,234.9 152.1,234.5 153.1,234.2 154.0,233.8 155.0,233.4 155.9,233.1 156.9,232.7 157.8,232.3 158.8,231.9 159.7,231.5 160.7,231.1 161.6,230.7 162.5,230.3 163.5,229.9 164.4,229.5 165.3,229.0 166.2,228.6 167.1,228.1 168.0,227.7 168.9,227.2 169.8,226.7 170.7,226.2 171.6,225.7 172.4,225.2 173.3,224.6 174.1,224.1 174.9,223.5 175.8,222.9 176.6,222.3 177.4,221.7 178.2,221.1 179.0,220.5 179.7,219.8 180.5,219.1 181.3,218.5 182.0,217.8 182.7,217.1 183.5,216.4 184.2,215.7 184.9,215.0 185.6,214.3 186.3,213.6 187.0,212.9 187.7,212.1 188.4,211.4 189.1,210.7 189.8,210.0 190.5,209.2 191.2,208.5 191.9,207.8 192.6,207.0 193.3,206.3 194.0,205.5 194.7,204.8 195.4,204.0 196.0,203.3 196.7,202.5 197.4,201.8 198.1,201.0 198.7,200.3 199.4,199.5 200.1,198.7 200.7,198.0 201.4,197.2 202.0,196.4 202.7,195.6 203.3,194.8 204.0,194.1 204.6,193.3 205.3,192.5 205.9,191.7 206.5,190.9 207.2,190.1 207.8,189.3 208.4,188.5 209.1,187.7 209.7,186.9 210.3,186.1 210.9,185.3 211.5,184.5 212.1,183.7 212.7,182.9 213.3,182.1 213.9,181.3 214.5,180.5 215.1,179.7 215.7,178.9 216.3,178.1 216.9,177.3 217.5,176.4 218.1,175.6 218.6,174.8 219.2,174.0 219.8,173.2 220.3,172.3 220.9,171.5 221.5,170.7 222.0,169.9 222.6,169.0 223.1,168.2 223.7,167.4 224.2,166.6 224.8,165.7 225.3,164.9 225.9,164.1 226.4,163.3 227.0,162.4 227.5,161.6 228.1,160.8 228.6,160.0 229.2,159.1 229.7,158.3 230.3,157.5 230.8,156.6 231.4,155.8 232.0,155.0 232.5,154.1 233.1,153.3 233.7,152.5 234.3,151.7 234.9,150.9 235.5,150.0 236.1,149.2 236.8,148.4 237.4,147.6 238.0,146.7 238.7,145.9 239.3,145.1 240.0,144.3 240.7,143.5 241.4,142.7 242.0,142.0 242.7,141.3 243.4,140.6 244.2,140.1 244.9,139.6 245.6,139.2 246.4,138.8 247.2,138.6 248.0,138.4 248.7,138.3 249.5,138.2 250.2,138.2 251.0,138.2 251.6,138.3 252.3,138.4 252.8,138.7 253.4,139.0 254.0,139.3 254.5,139.8 255.1,140.4 255.6,141.0 256.1,141.7 256.6,142.5 257.0,143.4 257.5,144.3 257.9,145.2 258.3,146.2 258.7,147.2 259.1,148.2 259.4,149.2 259.8,150.2 260.1,151.2 260.5,152.2 260.8,153.2 261.1,154.2 261.5,155.2 261.8,156.1 262.1,157.1 262.4,158.1 262.7,159.1 262.9,160.1 263.2,161.1 263.5,162.1 263.7,163.1 264.0,164.0 264.3,165.0 264.5,166.0 264.8,167.0 265.0,168.0 265.2,168.9 265.5,169.9 265.7,170.9 266.0,171.9 266.2,172.8 266.4,173.8 266.6,174.8 266.8,175.7 267.1,176.7 267.3,177.7 267.5,178.6 267.7,179.6 267.9,180.6 268.1,181.6 268.3,182.5 268.5,183.5 268.7,184.5 268.9,185.4 269.0,186.4 269.2,187.4 269.4,188.3 269.6,189.3 269.8,190.3 269.9,191.2 270.1,192.2 270.3,193.2 270.5,194.2 270.6,195.1 270.8,196.1 271.0,197.1 271.2,198.1 271.3,199.0 271.5,200.0 271.7,201.0 271.8,202.0 272.0,203.0 272.2,204.0 272.3,204.9 272.5,205.9 272.7,206.9 272.8,207.9 273.0,208.9 273.2,209.9 273.3,210.9 273.5,211.9 273.7,212.9 273.9,213.9 274.0,214.9 274.2,215.9 274.4,216.9 274.6,217.9 274.7,218.9 274.9,219.9 275.1,220.9 275.3,221.9 275.5,222.9 275.7,223.9 275.9,224.9 276.1,225.9 276.3,226.9 276.5,227.9 276.8,228.9 277.0,229.9 277.2,230.9 277.4,231.9 277.7,232.8 277.9,233.8 278.2,234.8 278.4,235.8 278.7,236.8 279.0,237.7 279.3,238.7 279.5,239.7 279.8,240.6 280.1,241.6 280.4,242.6 280.8,243.5 281.1,244.5 281.4,245.4 281.7,246.4 282.1,247.3 282.5,248.2 282.9,249.2 283.3,250.1 283.8,250.9 284.3,251.7 285.0,252.5 285.7,253.2 286.5,253.8 287.4,254.3 288.4,254.6 289.5,254.9 290.8,255.1 290.9,254.2 289.7,254.0 288.7,253.8 287.8,253.4 287.0,253.0 286.2,252.5 285.6,251.9 285.1,251.2 284.5,250.4 284.1,249.6 283.7,248.8 283.3,247.9 282.9,247.0 282.6,246.1 282.3,245.1 281.9,244.2 281.6,243.2 281.3,242.3 281.0,241.3 280.7,240.4 280.4,239.4 280.1,238.5 279.8,237.5 279.6,236.5 279.3,235.6 279.1,234.6 278.8,233.6 278.6,232.6 278.3,231.6 278.1,230.7 277.9,229.7 277.6,228.7 277.4,227.7 277.2,226.7 277.0,225.7 276.8,224.7 276.6,223.7 276.4,222.7 276.2,221.7 276.0,220.7 275.8,219.7 275.6,218.7 275.4,217.7 275.3,216.7 275.1,215.7 274.9,214.7 274.7,213.7 274.6,212.7 274.4,211.7 274.2,210.7 274.1,209.8 273.9,208.8 273.7,207.8 273.6,206.8 273.4,205.8 273.2,204.8 273.1,203.8 272.9,202.8 272.7,201.8 272.6,200.9 272.4,199.9 272.2,198.9 272.1,197.9 271.9,196.9 271.7,196.0 271.6,195.0 271.4,194.0 271.2,193.0 271.1,192.1 270.9,191.1 270.7,190.1 270.5,189.1 270.4,188.2 270.2,187.2 270.0,186.2 269.8,185.2 269.6,184.3 269.4,183.3 269.2,182.3 269.1,181.4 268.9,180.4 268.7,179.4 268.5,178.4 268.3,177.5 268.1,176.5 267.9,175.5 267.7,174.5 267.4,173.6 267.2,172.6 267.0,171.6 266.8,170.6 266.6,169.7 266.4,168.7 266.1,167.7 265.9,166.7 265.7,165.7 265.4,164.7 265.2,163.7 264.9,162.8 264.7,161.8 264.4,160.8 264.1,159.8 263.9,158.8 263.6,157.8 263.3,156.8 263.1,155.8 262.8,154.8 262.5,153.7 262.3,152.7 262.0,151.7 261.7,150.7 261.4,149.7 261.1,148.6 260.8,147.6 260.5,146.6 260.3,145.5 259.9,144.5 259.6,143.4 259.3,142.4 258.9,141.4 258.4,140.5 258.0,139.5 257.5,138.6 256.9,137.8 256.2,137.0 255.4,136.2 254.6,135.6 253.6,135.1 252.6,134.7 251.5,134.4 250.4,134.3 249.3,134.2 248.1,134.4 247.0,134.7 246.0,135.0 244.9,135.5 243.9,136.1 242.9,136.7 242.0,137.4 241.2,138.1 240.4,138.9 239.7,139.8 238.9,140.6 238.3,141.5 237.6,142.4 237.0,143.3 236.3,144.1 235.7,145.0 235.1,145.9 234.5,146.7 233.9,147.6 233.3,148.5 232.7,149.3 232.2,150.2 231.6,151.0 231.0,151.9 230.5,152.7 229.9,153.6 229.3,154.4 228.8,155.3 228.2,156.1 227.7,156.9 227.1,157.8 226.6,158.6 226.0,159.5 225.5,160.3 224.9,161.1 224.4,162.0 223.9,162.8 223.3,163.6 222.8,164.5 222.3,165.3 221.7,166.1 221.2,166.9 220.6,167.8 220.1,168.6 219.5,169.4 219.0,170.2 218.4,171.0 217.9,171.8 217.3,172.7 216.7,173.5 216.2,174.3 215.6,175.1 215.0,175.9 214.4,176.7 213.9,177.5 213.3,178.3 212.7,179.1 212.1,179.9 211.5,180.8 210.9,181.6 210.3,182.4 209.7,183.2 209.1,183.9 208.5,184.7 207.9,185.5 207.2,186.3 206.6,187.1 206.0,187.9 205.4,188.7 204.7,189.5 204.1,190.3 203.5,191.0 202.8,191.8 202.2,192.6 201.6,193.4 200.9,194.2 200.3,194.9 199.6,195.7 199.0,196.5 198.3,197.2 197.7,198.0 197.0,198.8 196.4,199.5 195.7,200.3 195.0,201.0 194.4,201.8 193.7,202.5 193.0,203.3 192.3,204.0 191.7,204.8 191.0,205.5 190.3,206.3 189.6,207.0 189.0,207.7 188.3,208.5 187.6,209.2 186.9,209.9 186.2,210.6 185.5,211.4 184.8,212.1 184.1,212.8 183.4,213.5 182.7,214.2 182.0,214.9 181.3,215.6 180.6,216.3 179.9,217.0 179.1,217.6 178.4,218.3 177.7,218.9 176.9,219.5 176.2,220.1 175.4,220.7 174.6,221.3 173.8,221.9 173.0,222.4 172.2,222.9 171.4,223.5 170.5,224.0 169.7,224.5 168.8,224.9 168.0,225.4 167.1,225.9 166.2,226.3 165.3,226.8 164.4,227.2 163.5,227.7 162.6,228.1 161.7,228.5 160.8,228.9 159.9,229.3 159.0,229.7 158.0,230.1 157.1,230.5 156.2,230.8 155.2,231.2 154.3,231.6 153.3,231.9 152.4,232.3 151.4,232.7 150.5,233.0 149.5,233.4 148.6,233.7 147.6,234.1 146.7,234.4 145.7,234.8 144.8,235.1 143.8,235.5 142.9,235.8 141.9,236.1 141.0,236.5 140.0,236.8 139.1,237.2 138.1,237.5 137.2,237.8 136.2,238.1 135.3,238.5 134.3,238.8 133.4,239.1 132.4,239.4 131.5,239.7 130.5,240.1 129.5,240.4 128.6,240.7 127.6,241.0 126.7,241.3 125.7,241.6 124.8,241.9 123.8,242.2 122.9,242.4 121.9,242.7 120.9,243.0 120.0,243.3 119.0,243.6 118.1,243.8 117.1,244.1 116.2,244.4 115.2,244.6 114.2,244.9 113.3,245.1 112.3,245.4 111.3,245.6 110.4,245.9 109.4,246.1 108.4,246.3 107.5,246.6 106.5,246.8 105.5,247.0 104.6,247.2 103.6,247.4 102.6,247.6 101.7,247.8 100.7,248.0 99.7,248.2 98.7,248.4 97.8,248.6 96.8,248.7 95.8,248.9 94.8,249.1 93.8,249.2 92.9,249.4 91.9,249.5 90.9,249.7 89.9,249.8 88.9,249.9 87.9,250.1 87.0,250.2 86.0,250.3 85.0,250.4 84.0,250.5 83.0,250.6 82.0,250.7 81.0,250.8 80.0,250.9 79.0,250.9 78.0,251.0 77.0,251.1 76.0,251.1 75.0,251.2 74.0,251.2 73.0,251.2 72.0,251.3 71.0,251.3 69.9,251.3 68.9,251.3 67.9,251.3 66.9,251.3 65.9,251.3 64.8,251.3 63.8,251.2" fill="#0000ff"/>
<polygon points="63.9,254.7 64.9,254.6 65.9,254.6 66.9,254.5 67.9,254.4 68.9,254.4 69.9,254.3 70.9,254.2 71.9,254.2 72.9,254.1 73.9,254.1 74.9,254.0 75.9,254.0 76.9,253.9 77.9,253.9 78.9,253.8 79.9,253.8 80.9,253.7 81.9,253.7 82.9,253.6 83.9,253.6 84.9,253.5 85.9,253.5 86.9,253.4 87.9,253.4 88.9,253.3 90.0,253.3 91.0,253.2 92.0,253.2 93.0,253.1 94.0,253.1 95.0,253.0 96.0,253.0 97.0,252.9 98.0,252.8 99.0,252.8 100.0,252.7 101.0,252.7 102.1,252.6 103.1,252.5 104.1,252.5 105.1,252.4 106.1,252.3 107.1,252.2 108.1,252.2 109.1,252.1 110.1,252.0 111.1,251.9 112.1,251.8 113.1,251.7 114.1,251.6 115.1,251.5 116.2,251.4 117.2,251.3 118.2,251.2 119.2,251.1 120.2,250.9 121.2,250.8 122.2,250.7 123.2,250.5 124.2,250.4 125.2,250.2 126.2,250.1 127.2,249.9 128.2,249.8 129.2,249.6 130.2,249.4 131.2,249.3 132.1,249.1 133.1,248.9 134.1,248.7 135.1,248.5 136.1,248.3 137.1,248.1 138.1,247.8 139.1,247.6 140.1,247.4 141.1,247.1 142.0,246.9 143.0,246.6 144.0,246.4 145.0,246.1 146.0,245.9 146.9,245.6 147.9,245.3 148.9,245.0 149.8,244.8 150.8,244.5 151.8,244.2 152.8,243.9 153.7,243.6 154.7,243.3 155.6,242.9 156.6,242.6 157.6,242.3 158.5,242.0 159.5,241.6 160.4,241.3 161.4,240.9 162.3,240.6 163.3,240.2 164.2,239.8 165.2,239.4 166.1,239.1 167.0,238.7 168.0,238.3 168.9,237.9 169.8,237.5 170.8,237.1 171.7,236.7 172.6,236.2 173.5,235.8 174.4,235.4 175.4,235.0 176.3,234.5 177.2,234.1 178.1,233.6 179.0,233.2 179.9,232.7 180.8,232.3 181.7,231.8 182.6,231.3 183.5,230.8 184.4,230.4 185.3,229.9 186.2,229.4 187.0,228.9 187.9,228.4 188.8,227.9 189.7,227.4 190.6,226.9 191.4,226.4 192.3,225.9 193.2,225.4 194.1,224.9 194.9,224.4 195.8,223.9 196.7,223.4 197.5,222.9 198.4,222.4 199.3,221.9 200.1,221.4 201.0,220.9 201.9,220.4 202.8,219.8 203.6,219.3 204.5,218.8 205.4,218.3 206.2,217.8 207.1,217.3 208.0,216.8 208.8,216.3 209.7,215.8 210.6,215.3 211.5,214.9 212.3,214.4 213.2,213.9 214.1,213.4 215.0,212.9 215.9,212.4 216.7,212.0 217.6,211.5 218.5,211.0 219.4,210.6 220.3,210.1 221.2,209.7 222.1,209.2 223.0,208.8 223.9,208.4 224.8,207.9 225.7,207.5 226.6,207.1 227.5,206.7 228.4,206.3 229.4,205.9 230.3,205.5 231.2,205.1 232.1,204.8 233.1,204.4 234.0,204.0 234.9,203.7 235.9,203.3 236.8,203.0 237.8,202.7 238.8,202.4 239.7,202.1 240.7,201.8 241.6,201.5 242.6,201.2 243.5,201.0 244.4,200.9 245.3,200.7 246.2,200.6 247.1,200.6 247.9,200.6 248.7,200.7 249.5,200.8 250.2,201.0 251.0,201.3 251.7,201.7 252.5,202.1 253.2,202.6 253.9,203.2 254.6,203.8 255.3,204.4 256.0,205.1 256.7,205.9 257.3,206.7 257.9,207.5 258.5,208.3 259.1,209.2 259.6,210.1 260.2,211.0 260.7,211.9 261.2,212.8 261.7,213.7 262.2,214.5 262.7,215.4 263.1,216.3 263.6,217.1 264.0,218.0 264.4,218.8 264.9,219.7 265.3,220.5 265.6,221.4 266.0,222.3 266.4,223.2 266.7,224.2 267.0,225.1 267.4,226.1 267.7,227.0 268.0,228.0 268.3,229.0 268.6,230.0 268.9,231.0 269.2,232.0 269.5,233.0 269.8,234.0 270.1,234.9 270.4,235.9 270.7,236.9 271.1,237.9 271.4,238.9 271.8,239.9 272.2,240.8 272.6,241.8 273.0,242.7 273.4,243.6 273.8,244.5 274.3,245.4 274.8,246.3 275.3,247.1 275.9,247.9 276.5,248.7 277.1,249.5 277.7,250.2 278.4,250.9 279.1,251.6 279.9,252.2 280.7,252.8 281.5,253.3 282.4,253.8 283.3,254.2 284.2,254.5 285.2,254.7 286.3,254.9 287.4,255.0 288.5,255.0 289.7,255.0 290.9,254.8 290.7,253.8 289.6,254.0 288.5,254.0 287.4,254.0 286.4,253.9 285.4,253.8 284.5,253.5 283.7,253.2 282.8,252.8 282.0,252.4 281.3,251.9 280.5,251.4 279.8,250.8 279.2,250.1 278.5,249.5 277.9,248.8 277.3,248.0 276.8,247.3 276.3,246.5 275.8,245.7 275.3,244.9 274.8,244.0 274.4,243.1 274.0,242.2 273.6,241.3 273.2,240.4 272.8,239.5 272.5,238.5 272.1,237.6 271.8,236.6 271.5,235.6 271.1,234.6 270.8,233.6 270.5,232.6 270.2,231.6 269.9,230.6 269.6,229.6 269.3,228.6 269.1,227.7 268.8,226.7 268.4,225.7 268.1,224.7 267.8,223.8 267.5,222.8 267.1,221.9 266.8,221.0 266.4,220.1 266.1,219.2 265.7,218.3 265.3,217.4 264.9,216.5 264.5,215.6 264.0,214.7 263.6,213.8 263.1,212.9 262.7,212.0 262.2,211.1 261.8,210.1 261.3,209.1 260.8,208.2 260.3,207.2 259.7,206.3 259.2,205.4 258.6,204.4 257.9,203.6 257.3,202.7 256.6,201.9 255.8,201.1 255.0,200.3 254.1,199.7 253.2,199.1 252.3,198.5 251.3,198.1 250.2,197.8 249.2,197.6 248.1,197.5 247.0,197.4 246.0,197.5 244.9,197.6 243.9,197.7 242.9,197.9 241.8,198.2 240.8,198.5 239.8,198.8 238.8,199.1 237.8,199.4 236.8,199.7 235.8,200.1 234.8,200.4 233.9,200.8 232.9,201.1 231.9,201.5 231.0,201.9 230.0,202.3 229.1,202.7 228.1,203.1 227.2,203.5 226.3,203.9 225.3,204.3 224.4,204.7 223.5,205.2 222.6,205.6 221.7,206.1 220.7,206.5 219.8,207.0 218.9,207.4 218.0,207.9 217.1,208.4 216.2,208.8 215.3,209.3 214.4,209.8 213.5,210.3 212.7,210.8 211.8,211.3 210.9,211.7 210.0,212.2 209.1,212.7 208.2,213.2 207.4,213.7 206.5,214.3 205.6,214.8 204.7,215.3 203.9,215.8 203.0,216.3 202.1,216.8 201.3,217.3 200.4,217.8 199.5,218.4 198.7,218.9 197.8,219.4 196.9,219.9 196.1,220.4 195.2,220.9 194.4,221.5 193.5,222.0 192.6,222.5 191.8,223.0 190.9,223.5 190.0,224.0 189.2,224.5 188.3,225.0 187.4,225.5 186.6,226.0 185.7,226.5 184.8,227.0 183.9,227.5 183.1,228.0 182.2,228.4 181.3,228.9 180.4,229.4 179.5,229.8 178.7,230.3 177.8,230.8 176.9,231.2 176.0,231.7 175.1,232.1 174.2,232.5 173.3,233.0 172.4,233.4 171.5,233.8 170.6,234.2 169.7,234.7 168.8,235.1 167.9,235.5 166.9,235.9 166.0,236.2 165.1,236.6 164.2,237.0 163.2,237.4 162.3,237.8 161.4,238.1 160.5,238.5 159.5,238.8 158.6,239.2 157.7,239.5 156.7,239.9 155.8,240.2 154.8,240.6 153.9,240.9 152.9,241.2 152.0,241.5 151.0,241.8 150.1,242.1 149.1,242.4 148.2,242.7 147.2,243.0 146.3,243.3 145.3,243.6 144.4,243.9 143.4,244.1 142.4,244.4 141.5,244.6 140.5,244.9 139.5,245.1 138.6,245.4 137.6,245.6 136.6,245.8 135.6,246.1 134.7,246.3 133.7,246.5 132.7,246.7 131.7,246.9 130.7,247.1 129.8,247.3 128.8,247.4 127.8,247.6 126.8,247.8 125.8,248.0 124.8,248.1 123.9,248.3 122.9,248.4 121.9,248.6 120.9,248.7 119.9,248.9 118.9,249.0 117.9,249.1 116.9,249.2 115.9,249.4 114.9,249.5 113.9,249.6 112.9,249.7 111.9,249.8 110.9,249.9 109.9,250.0 108.9,250.1 107.9,250.2 106.9,250.3 105.9,250.4 104.9,250.4 103.9,250.5 102.9,250.6 101.9,250.7 100.9,250.8 99.9,250.8 98.9,250.9 97.9,251.0 96.9,251.0 95.9,251.1 94.9,251.2 93.9,251.2 92.9,251.3 91.9,251.4 90.9,251.4 89.9,251.5 88.9,251.5 87.8,251.6 86.8,251.6 85.8,251.7 84.8,251.8 83.8,251.8 82.8,251.9 81.8,251.9 80.8,252.0 79.8,252.0 78.8,252.1 77.8,252.1 76.8,252.2 75.8,252.3 74.8,252.3 73.8,252.4 72.8,252.5 71.8,252.5 70.7,252.6 69.7,252.7 68.7,252.7 67.7,252.8 66.7,252.9 65.7,252.9 64.7,253.0 63.7,253.1" fill="#00ee00"/>
<polygon points="63.8,37.6 64.4,38.4 65.0,39.2 65.6,40.0 66.2,40.8 66.9,41.6 67.5,42.4 68.1,43.2 68.7,44.0 69.3,44.8 69.9,45.6 70.5,46.4 71.1,47.2 71.8,48.0 72.4,48.8 73.0,49.6 73.6,50.3 74.2,51.1 74.8,51.9 75.4,52.7 76.1,53.5 76.7,54.3 77.3,55.1 77.9,55.9 78.5,56.7 79.2,57.5 79.8,58.3 80.4,59.1 81.0,59.9 81.6,60.6 82.3,61.4 82.9,62.2 83.5,63.0 84.1,63.8 84.8,64.6 85.4,65.4 86.0,66.2 86.6,66.9 87.3,67.7 87.9,68.5 88.5,69.3 89.2,70.1 89.8,70.9 90.4,71.6 91.0,72.4 91.7,73.2 92.3,74.0 92.9,74.8 93.6,75.5 94.2,76.3 94.8,77.1 95.5,77.9 96.1,78.7 96.8,79.4 97.4,80.2 98.0,81.0 98.7,81.8 99.3,82.5 100.0,83.3 100.6,84.1 101.2,84.9 101.9,85.6 102.5,86.4 103.2,87.2 103.8,87.9 104.5,88.7 105.1,89.5 105.8,90.2 106.4,91.0 107.1,91.8 107.7,92.5 108.4,93.3 109.0,94.1 109.7,94.8 110.3,95.6 111.0,96.4 111.6,97.1 112.3,97.9 113.0,98.6 113.6,99.4 114.3,100.2 114.9,100.9 115.6,101.7 116.3,102.4 116.9,103.2 117.6,103.9 118.3,104.7 118.9,105.4 119.6,106.2 120.3,106.9 120.9,107.7 121.6,108.4 122.3,109.2 122.9,109.9 123.6,110.7 124.3,111.4 125.0,112.1 125.7,112.9 126.3,113.6 127.0,114.4 127.7,115.1 128.4,115.9 129.1,116.6 129.7,117.3 130.4,118.1 131.1,118.8 131.8,119.5 132.5,120.3 133.2,121.0 133.9,121.7 134.6,122.5 135.3,123.2 135.9,123.9 136.6,124.6 137.3,125.4 138.0,126.1 138.7,126.8 139.4,127.5 140.1,128.3 140.8,129.0 141.5,129.7 142.2,130.4 142.9,131.2 143.6,131.9 144.3,132.6 145.0,133.3 145.7,134.0 146.4,134.8 147.1,135.5 147.8,136.2 148.5,136.9 149.2,137.6 149.9,138.4 150.7,139.1 151.4,139.8 152.1,140.5 152.8,141.2 153.5,141.9 154.2,142.6 154.9,143.4 155.6,144.1 156.3,144.8 157.0,145.5 157.7,146.2 158.4,146.9 159.1,147.6 159.9,148.4 160.6,149.1 161.3,149.8 162.0,150.5 162.7,151.2 163.4,151.9 164.1,152.6 164.8,153.4 165.5,154.1 166.2,154.8 166.9,155.5 167.6,156.2 168.4,156.9 169.1,157.6 169.8,158.4 170.5,159.1 171.2,159.8 171.9,160.5 172.6,161.2 173.3,161.9 174.0,162.7 174.7,163.4 175.4,164.1 176.1,164.8 176.8,165.5 177.5,166.2 178.2,167.0 178.9,167.7 179.6,168.4 180.3,169.1 181.0,169.8 181.7,170.6 182.4,171.3 183.1,172.0 183.8,172.7 184.5,173.5 185.2,174.2 185.9,174.9 186.6,175.6 187.3,176.4 188.0,177.1 188.7,177.8 189.4,178.5 190.1,179.3 190.7,180.0 191.4,180.7 192.1,181.5 192.8,182.2 193.5,182.9 194.2,183.7 194.9,184.4 195.5,185.1 196.2,185.9 196.9,186.6 197.6,187.3 198.3,188.1 198.9,188.8 199.6,189.6 200.3,190.3 200.9,191.0 201.6,191.8 202.3,192.5 203.0,193.3 203.6,194.0 204.3,194.8 205.0,195.5 205.6,196.3 206.3,197.0 206.9,197.8 207.6,198.5 208.3,199.3 208.9,200.0 209.6,200.8 210.3,201.5 210.9,202.3 211.6,203.1 212.2,203.8 212.9,204.6 213.6,205.3 214.2,206.1 214.9,206.8 215.6,207.6 216.2,208.4 216.9,209.1 217.5,209.9 218.2,210.6 218.9,211.4 219.5,212.2 220.2,212.9 220.9,213.7 221.5,214.4 222.2,215.2 222.9,216.0 223.6,216.7 224.2,217.5 224.9,218.2 225.6,219.0 226.3,219.7 226.9,220.5 227.6,221.2 228.3,222.0 229.0,222.7 229.7,223.4 230.4,224.2 231.1,224.9 231.8,225.6 232.5,226.4 233.2,227.1 233.9,227.8 234.6,228.5 235.3,229.2 236.1,229.9 236.8,230.7 237.5,231.4 238.2,232.0 239.0,232.7 239.7,233.4 240.5,234.1 241.2,234.8 242.0,235.4 242.7,236.1 243.5,236.8 244.2,237.4 245.0,238.0 245.8,238.7 246.6,239.3 247.4,239.9 248.2,240.5 249.0,241.1 249.8,241.7 250.6,242.3 251.4,242.9 252.2,243.5 253.0,244.0 253.8,244.6 254.7,245.1 255.5,245.6 256.4,246.1 257.2,246.6 258.1,247.1 258.9,247.6 259.8,248.1 260.7,248.5 261.5,248.9 262.4,249.4 263.3,249.8 264.2,250.2 265.1,250.5 266.0,250.9 266.9,251.3 267.9,251.6 268.8,251.9 269.7,252.2 270.6,252.5 271.6,252.8 272.5,253.0 273.5,253.3 274.5,253.5 275.4,253.7 276.4,253.9 277.4,254.0 278.4,254.2 279.4,254.3 280.4,254.4 281.4,254.5 282.4,254.5 283.4,254.6 284.5,254.6 285.5,254.6 286.6,254.6 287.6,254.6 288.7,254.5 289.7,254.4 290.8,254.3 290.8,254.3 289.8,254.4 288.7,254.6 287.7,254.7 286.7,254.8 285.6,254.9 284.6,254.9 283.6,255.0 282.6,255.0 281.6,255.0 280.6,255.0 279.6,254.9 278.6,254.9 277.6,254.8 276.6,254.7 275.6,254.6 274.6,254.4 273.6,254.2 272.6,254.1 271.7,253.9 270.7,253.6 269.7,253.4 268.8,253.2 267.8,252.9 266.9,252.6 266.0,252.3 265.0,252.0 264.1,251.6 263.2,251.2 262.3,250.9 261.4,250.5 260.5,250.1 259.6,249.6 258.7,249.2 257.8,248.7 256.9,248.2 256.1,247.8 255.2,247.3 254.3,246.7 253.5,246.2 252.6,245.7 251.8,245.1 251.0,244.6 250.1,244.0 249.3,243.4 248.5,242.8 247.7,242.2 246.9,241.6 246.1,241.0 245.3,240.4 244.5,239.7 243.7,239.1 243.0,238.5 242.2,237.8 241.4,237.1 240.7,236.5 239.9,235.8 239.2,235.1 238.4,234.4 237.7,233.7 237.0,233.0 236.2,232.3 235.5,231.6 234.8,230.9 234.1,230.2 233.4,229.5 232.7,228.8 232.0,228.0 231.3,227.3 230.6,226.6 229.9,225.9 229.2,225.1 228.6,224.4 227.9,223.6 227.2,222.9 226.6,222.2 225.9,221.4 225.2,220.7 224.6,219.9 223.9,219.1 223.2,218.4 222.6,217.6 221.9,216.9 221.3,216.1 220.6,215.4 220.0,214.6 219.3,213.8 218.7,213.1 218.0,212.3 217.4,211.6 216.7,210.8 216.1,210.0 215.4,209.3 214.8,208.5 214.1,207.8 213.5,207.0 212.8,206.3 212.1,205.5 211.5,204.7 210.8,204.0 210.2,203.2 209.5,202.5 208.8,201.7 208.2,201.0 207.5,200.2 206.8,199.5 206.1,198.8 205.4,198.0 204.8,197.3 204.1,196.5 203.4,195.8 202.7,195.1 202.0,194.3 201.3,193.6 200.6,192.9 199.9,192.2 199.2,191.4 198.5,190.7 197.8,190.0 197.1,189.3 196.4,188.6 195.7,187.8 195.0,187.1 194.3,186.4 193.6,185.7 192.9,185.0 192.1,184.3 191.4,183.6 190.7,182.9 190.0,182.2 189.3,181.5 188.5,180.7 187.8,180.0 187.1,179.3 186.4,178.7 185.6,178.0 184.9,177.3 184.2,176.6 183.4,175.9 182.7,175.2 182.0,174.5 181.2,173.8 180.5,173.1 179.8,172.4 179.0,171.8 178.3,171.1 177.6,170.4 176.8,169.7 176.1,169.0 175.3,168.4 174.6,167.7 173.8,167.0 173.1,166.3 172.4,165.7 171.6,165.0 170.9,164.3 170.1,163.7 169.4,163.0 168.6,162.3 167.9,161.7 167.1,161.0 166.4,160.3 165.6,159.7 164.9,159.0 164.1,158.4 163.3,157.7 162.6,157.0 161.8,156.4 161.1,155.7 160.3,155.1 159.5,154.4 158.8,153.8 158.0,153.1 157.2,152.5 156.5,151.9 155.7,151.2 154.9,150.6 154.2,149.9 153.4,149.3 152.6,148.7 151.9,148.0 151.1,147.4 150.3,146.7 149.5,146.1 148.8,145.5 148.0,144.9 147.2,144.2 146.4,143.6 145.6,143.0 144.9,142.3 144.1,141.7 143.3,141.1 142.5,140.5 141.7,139.9 140.9,139.2 140.1,138.6 139.4,138.0 138.6,137.4 137.8,136.8 137.0,136.2 136.2,135.6 135.4,134.9 134.6,134.3 133.8,133.7 133.0,133.1 132.2,132.5 131.4,131.9 130.6,131.3 129.8,130.7 129.0,130.1 128.2,129.5 127.4,128.9 126.6,128.3 125.8,127.7 124.9,127.1 124.1,126.5 123.3,125.9 122.5,125.4 121.7,124.8 120.9,124.2 120.1,123.6 119.2,123.0 118.4,122.4 117.6,121.8 116.8,121.3 115.9,120.7 115.1,120.1 114.3,119.5 113.5,118.9 112.6,118.4 111.8,117.8 111.0,117.2 110.1,116.6 109.3,116.1 108.5,115.5 107.6,114.9 106.8,114.4 106.0,113.8 105.1,113.2 104.3,112.7 103.4,112.1 102.6,111.5 101.7,111.0 100.9,110.4 100.0,109.9 99.2,109.3 98.3,108.8 97.5,108.3 96.6,107.8 95.7,107.2 94.9,106.7 94.0,106.2 93.1,105.7 92.3,105.2 91.4,104.8 90.5,104.3 89.6,103.8 88.7,103.4 87.8,102.9 86.9,102.5 86.0,102.1 85.1,101.7 84.2,101.3 83.3,100.9 82.4,100.6 81.4,100.2 80.5,99.9 79.6,99.6 78.6,99.3 77.7,99.0 76.7,98.8 75.8,98.5 74.8,98.3 73.8,98.1 72.9,97.9 71.9,97.7 70.9,97.5 69.9,97.4 68.9,97.3 67.9,97.2 66.9,97.1 65.9,97.1 64.8,97.1 63.8,97.1" fill="#f70a0a" /></g>
<rect x="63.50" y="22.00" width="227.50" height="232.60" fill="none" stroke="#111" stroke-width="1.0"/>
<text transform="translate(52.93 257.95) scale(1.1200 1)" font-size="11.40" fill="#111" stroke="none">0</text>
<text transform="translate(42.64 219.18) scale(1.1200 1)" font-size="11.40" fill="#111" stroke="none">0.2</text>
<text transform="translate(42.83 180.42) scale(1.1200 1)" font-size="11.40" fill="#111" stroke="none">0.4</text>
<text transform="translate(43.02 141.65) scale(1.1200 1)" font-size="11.40" fill="#111" stroke="none">0.6</text>
<text transform="translate(43.20 102.88) scale(1.1200 1)" font-size="11.40" fill="#111" stroke="none">0.8</text>
<text transform="translate(51.48 64.12) scale(1.1200 1)" font-size="11.40" fill="#111" stroke="none">1</text>
<text transform="translate(43.04 25.35) scale(1.1200 1)" font-size="11.40" fill="#111" stroke="none">1.2</text>
<text transform="translate(46.11 268.75) scale(1.0642 1)" font-size="11.40" fill="#111" stroke="none">0.0001</text>
<text transform="translate(104.71 268.75) scale(1.0649 1)" font-size="11.40" fill="#111" stroke="none">0.001</text>
<text transform="translate(164.99 268.75) scale(1.1217 1)" font-size="11.40" fill="#111" stroke="none">0.01</text>
<text transform="translate(226.01 268.75) scale(1.0755 1)" font-size="11.40" fill="#111" stroke="none">0.1</text>
<text transform="translate(288.59 268.75) scale(1.0378 1)" font-size="11.40" fill="#111" stroke="none">1</text>
<text transform="translate(149.17 131.88) scale(1.2641 1)" font-size="10.55" fill="#ff0000" stroke="none" font-weight="bold">g</text>
<text transform="translate(157.00 134.73) scale(1.0381 1)" font-size="17.16" fill="#ff0000" stroke="none">/</text>
<text transform="translate(162.41 132.28) scale(1.0286 1)" font-size="12.44" fill="#ff0000" stroke="none">10</text>
<text transform="translate(244.79 129.77) scale(1.0772 1)" font-size="12.98" fill="#0000ff" stroke="none" font-weight="bold">u</text>
<text transform="translate(252.60 130.86) scale(1.0549 1)" font-size="9.55" fill="#0000ff" stroke="none" font-style="italic">V</text>
<text transform="translate(244.21 192.97) scale(1.1479 1)" font-size="12.77" fill="#00ee00" stroke="none" font-weight="bold">d</text>
<text transform="translate(252.60 193.77) scale(1.1844 1)" font-size="8.51" fill="#00ee00" stroke="none" font-style="italic">V</text>
<text transform="translate(244.46 232.48) scale(1.0912 1)" font-size="12.34" fill="#2fcc2f" stroke="none" font-weight="bold">d</text>
<rect x="244.00" y="222.00" width="9.10" height="0.85" fill="#2fcc2f"/>
<text transform="translate(212.00 231.18) scale(1.1245 1)" font-size="11.91" fill="#0000cc" stroke="none" font-weight="bold">u</text>
<rect x="211.60" y="222.90" width="7.20" height="0.85" fill="#0000cc"/>
<text transform="translate(153.77 208.20) scale(1.4328 1)" font-size="10.00" fill="#5ccccc" stroke="none" font-weight="bold">s</text>
<text transform="translate(96.77 220.18) scale(1.2468 1)" font-size="12.08" fill="#ff00ff" stroke="none" font-weight="bold">c</text>
<path d="M378.90 255.00L378.90 249.00M378.90 23.40L378.90 29.40M395.94 255.00L395.94 252.00M395.94 23.40L395.94 26.40M405.91 255.00L405.91 252.00M405.91 23.40L405.91 26.40M412.98 255.00L412.98 252.00M412.98 23.40L412.98 26.40M418.47 255.00L418.47 252.00M418.47 23.40L418.47 26.40M422.95 255.00L422.95 252.00M422.95 23.40L422.95 26.40M426.74 255.00L426.74 252.00M426.74 23.40L426.74 26.40M430.03 255.00L430.03 252.00M430.03 23.40L430.03 26.40M432.92 255.00L432.92 252.00M432.92 23.40L432.92 26.40M435.51 255.00L435.51 249.00M435.51 23.40L435.51 29.40M452.55 255.00L452.55 252.00M452.55 23.40L452.55 26.40M462.52 255.00L462.52 252.00M462.52 23.40L462.52 26.40M469.60 255.00L469.60 252.00M469.60 23.40L469.60 26.40M475.08 255.00L475.08 252.00M475.08 23.40L475.08 26.40M479.57 255.00L479.57 252.00M479.57 23.40L479.57 26.40M483.36 255.00L483.36 252.00M483.36 23.40L483.36 26.40M486.64 255.00L486.64 252.00M486.64 23.40L486.64 26.40M489.53 255.00L489.53 252.00M489.53 23.40L489.53 26.40M492.12 255.00L492.12 249.00M492.12 23.40L492.12 29.40M509.17 255.00L509.17 252.00M509.17 23.40L509.17 26.40M519.14 255.00L519.14 252.00M519.14 23.40L519.14 26.40M526.21 255.00L526.21 252.00M526.21 23.40L526.21 26.40M531.70 255.00L531.70 252.00M531.70 23.40L531.70 26.40M536.18 255.00L536.18 252.00M536.18 23.40L536.18 26.40M539.97 255.00L539.97 252.00M539.97 23.40L539.97 26.40M543.25 255.00L543.25 252.00M543.25 23.40L543.25 26.40M546.15 255.00L546.15 252.00M546.15 23.40L546.15 26.40M548.74 255.00L548.74 249.00M548.74 23.40L548.74 29.40M565.78 255.00L565.78 252.00M565.78 23.40L565.78 26.40M575.75 255.00L575.75 252.00M575.75 23.40L575.75 26.40M582.82 255.00L582.82 252.00M582.82 23.40L582.82 26.40M588.31 255.00L588.31 252.00M588.31 23.40L588.31 26.40M592.79 255.00L592.79 252.00M592.79 23.40L592.79 26.40M596.58 255.00L596.58 252.00M596.58 23.40L596.58 26.40M599.86 255.00L599.86 252.00M599.86 23.40L599.86 26.40M602.76 255.00L602.76 252.00M602.76 23.40L602.76 26.40M378.90 255.00L384.90 255.00M605.35 255.00L599.35 255.00M378.90 247.28L381.90 247.28M605.35 247.28L602.35 247.28M378.90 239.56L381.90 239.56M605.35 239.56L602.35 239.56M378.90 231.84L381.90 231.84M605.35 231.84L602.35 231.84M378.90 224.12L381.90 224.12M605.35 224.12L602.35 224.12M378.90 216.40L384.90 216.40M605.35 216.40L599.35 216.40M378.90 208.68L381.90 208.68M605.35 208.68L602.35 208.68M378.90 200.96L381.90 200.96M605.35 200.96L602.35 200.96M378.90 193.24L381.90 193.24M605.35 193.24L602.35 193.24M378.90 185.52L381.90 185.52M605.35 185.52L602.35 185.52M378.90 177.80L384.90 177.80M605.35 177.80L599.35 177.80M378.90 170.08L381.90 170.08M605.35 170.08L602.35 170.08M378.90 162.36L381.90 162.36M605.35 162.36L602.35 162.36M378.90 154.64L381.90 154.64M605.35 154.64L602.35 154.64M378.90 146.92L381.90 146.92M605.35 146.92L602.35 146.92M378.90 139.20L384.90 139.20M605.35 139.20L599.35 139.20M378.90 131.48L381.90 131.48M605.35 131.48L602.35 131.48M378.90 123.76L381.90 123.76M605.35 123.76L602.35 123.76M378.90 116.04L381.90 116.04M605.35 116.04L602.35 116.04M378.90 108.32L381.90 108.32M605.35 108.32L602.35 108.32M378.90 100.60L384.90 100.60M605.35 100.60L599.35 100.60M378.90 92.88L381.90 92.88M605.35 92.88L602.35 92.88M378.90 85.16L381.90 85.16M605.35 85.16L602.35 85.16M378.90 77.44L381.90 77.44M605.35 77.44L602.35 77.44M378.90 69.72L381.90 69.72M605.35 69.72L602.35 69.72M378.90 62.00L384.90 62.00M605.35 62.00L599.35 62.00M378.90 54.28L381.90 54.28M605.35 54.28L602.35 54.28M378.90 46.56L381.90 46.56M605.35 46.56L602.35 46.56M378.90 38.84L381.90 38.84M605.35 38.84L602.35 38.84M378.90 31.12L381.90 31.12M605.35 31.12L602.35 31.12M378.90 23.40L384.90 23.40M605.35 23.40L599.35 23.40" stroke="#111" stroke-width="0.9" fill="none"/>
<g clip-path="url(#cr)"><polyline points="417.6,23.3 417.9,24.3 418.1,25.2 418.4,26.2 418.7,27.2 418.9,28.2 419.2,29.1 419.5,30.1 419.7,31.1 420.0,32.0 420.3,33.0 420.5,34.0 420.8,35.0 421.0,35.9 421.3,36.9 421.6,37.9 421.8,38.8 422.1,39.8 422.4,40.8 422.6,41.7 422.9,42.7 423.2,43.7 423.4,44.7 423.7,45.6 423.9,46.6 424.2,47.6 424.5,48.5 424.7,49.5 425.0,50.5 425.3,51.5 425.5,52.4 425.8,53.4 426.1,54.4 426.3,55.3 426.6,56.3 426.9,57.3 427.1,58.2 427.4,59.2 427.7,60.2 427.9,61.1 428.2,62.1 428.5,63.1 428.8,64.0 429.0,65.0 429.3,66.0 429.6,66.9 429.8,67.9 430.1,68.9 430.4,69.8 430.7,70.8 430.9,71.8 431.2,72.7 431.5,73.7 431.8,74.7 432.1,75.6 432.3,76.6 432.6,77.5 432.9,78.5 433.2,79.5 433.5,80.4 433.8,81.4 434.0,82.4 434.3,83.3 434.6,84.3 434.9,85.2 435.2,86.2 435.5,87.2 435.8,88.1 436.1,89.1 436.4,90.0 436.6,91.0 436.9,91.9 437.2,92.9 437.5,93.9 437.8,94.8 438.1,95.8 438.4,96.7 438.7,97.7 439.0,98.6 439.3,99.6 439.7,100.5 440.0,101.5 440.3,102.5 440.6,103.4 440.9,104.4 441.2,105.3 441.5,106.3 441.8,107.2 442.1,108.2 442.5,109.1 442.8,110.1 443.1,111.0 443.4,111.9 443.8,112.9 444.1,113.8 444.4,114.8 444.7,115.7 445.1,116.7 445.4,117.6 445.7,118.6 446.1,119.5 446.4,120.5 446.7,121.4 447.1,122.3 447.4,123.3 447.8,124.2 448.1,125.2 448.5,126.1 448.8,127.0 449.2,128.0 449.5,128.9 449.9,129.8 450.2,130.8 450.6,131.7 450.9,132.6 451.3,133.6 451.7,134.5 452.0,135.4 452.4,136.4 452.8,137.3 453.1,138.2 453.5,139.2 453.9,140.1 454.3,141.0 454.6,142.0 455.0,142.9 455.4,143.8 455.8,144.7 456.2,145.7 456.6,146.6 457.0,147.5 457.4,148.4 457.8,149.3 458.2,150.3 458.6,151.2 459.0,152.1 459.4,153.0 459.8,153.9 460.2,154.9 460.6,155.8 461.0,156.7 461.4,157.6 461.9,158.5 462.3,159.4 462.7,160.3 463.1,161.2 463.6,162.2 464.0,163.1 464.4,164.0 464.9,164.9 465.3,165.8 465.8,166.7 466.2,167.6 466.7,168.5 467.1,169.4 467.6,170.3 468.0,171.2 468.5,172.1 468.9,173.0 469.4,173.9 469.9,174.8 470.3,175.7 470.8,176.6 471.3,177.5 471.8,178.4 472.3,179.3 472.7,180.2 473.2,181.1 473.7,181.9 474.2,182.8 474.7,183.7 475.2,184.6 475.7,185.5 476.2,186.4 476.7,187.2 477.2,188.1 477.8,189.0 478.3,189.9 478.8,190.7 479.3,191.6 479.9,192.5 480.4,193.3 480.9,194.2 481.5,195.0 482.0,195.9 482.6,196.7 483.1,197.6 483.7,198.4 484.2,199.3 484.8,200.1 485.4,200.9 485.9,201.8 486.5,202.6 487.1,203.4 487.7,204.2 488.3,205.1 488.9,205.9 489.5,206.7 490.1,207.5 490.7,208.3 491.3,209.1 491.9,209.9 492.5,210.7 493.1,211.5 493.8,212.3 494.4,213.0 495.0,213.8 495.7,214.6 496.3,215.3 497.0,216.1 497.6,216.9 498.3,217.6 498.9,218.4 499.6,219.1 500.3,219.8 501.0,220.6 501.6,221.3 502.3,222.0 503.0,222.7 503.7,223.4 504.4,224.1 505.1,224.8 505.8,225.5 506.6,226.2 507.3,226.9 508.0,227.6 508.7,228.2 509.5,228.9 510.2,229.6 511.0,230.2 511.7,230.9 512.5,231.5 513.3,232.1 514.0,232.8 514.8,233.4 515.6,234.0 516.4,234.6 517.2,235.2 518.0,235.8 518.8,236.4 519.6,236.9 520.4,237.5 521.2,238.1 522.1,238.6 522.9,239.2 523.7,239.7 524.6,240.3 525.4,240.8 526.3,241.3 527.2,241.8 528.0,242.3 528.9,242.8 529.8,243.3 530.7,243.8 531.5,244.2 532.4,244.7 533.3,245.1 534.2,245.6 535.1,246.0 536.1,246.4 537.0,246.9 537.9,247.3 538.8,247.7 539.7,248.0 540.7,248.4 541.6,248.8 542.5,249.1 543.5,249.5 544.4,249.8 545.4,250.2 546.3,250.5 547.3,250.8 548.2,251.1 549.2,251.4 550.2,251.6 551.1,251.9 552.1,252.2 553.1,252.4 554.1,252.6 555.0,252.9 556.0,253.1 557.0,253.3 558.0,253.5 559.0,253.6 560.0,253.8 561.0,254.0 562.0,254.1 563.0,254.2 564.0,254.3 565.0,254.5 566.0,254.5 567.0,254.6 568.0,254.7 569.0,254.8 570.0,254.8 571.0,254.9 572.0,254.9 573.0,254.9 574.1,254.9 575.1,254.9 576.1,254.9 577.1,254.9 578.1,254.9 579.1,254.9 580.1,254.9 581.2,254.9 582.2,254.9 583.2,254.8 584.2,254.8 585.2,254.8 586.2,254.7 587.3,254.7 588.3,254.7 589.3,254.7 590.3,254.6 591.3,254.6 592.3,254.6 593.3,254.6 594.3,254.5 595.3,254.5 596.4,254.5 597.4,254.5 598.4,254.5 599.4,254.5 600.3,254.6 601.3,254.6 602.3,254.6 603.3,254.7 604.3,254.7 605.3,254.8" fill="none" stroke="#00ecec" stroke-width="1.60" stroke-linejoin="round" />
<polyline points="433.0,23.3 433.3,24.3 433.5,25.2 433.8,26.2 434.0,27.2 434.3,28.1 434.6,29.1 434.8,30.1 435.1,31.1 435.3,32.0 435.6,33.0 435.9,34.0 436.1,34.9 436.4,35.9 436.6,36.9 436.9,37.8 437.2,38.8 437.4,39.8 437.7,40.7 437.9,41.7 438.2,42.7 438.5,43.7 438.7,44.6 439.0,45.6 439.3,46.6 439.5,47.5 439.8,48.5 440.0,49.5 440.3,50.5 440.6,51.4 440.8,52.4 441.1,53.4 441.4,54.3 441.6,55.3 441.9,56.3 442.2,57.2 442.5,58.2 442.7,59.2 443.0,60.2 443.3,61.1 443.5,62.1 443.8,63.1 444.1,64.0 444.4,65.0 444.6,66.0 444.9,66.9 445.2,67.9 445.5,68.9 445.7,69.8 446.0,70.8 446.3,71.8 446.6,72.7 446.9,73.7 447.1,74.7 447.4,75.6 447.7,76.6 448.0,77.6 448.3,78.5 448.6,79.5 448.8,80.5 449.1,81.4 449.4,82.4 449.7,83.4 450.0,84.3 450.3,85.3 450.6,86.3 450.9,87.2 451.2,88.2 451.5,89.1 451.8,90.1 452.1,91.1 452.4,92.0 452.7,93.0 453.0,94.0 453.3,94.9 453.6,95.9 453.9,96.8 454.2,97.8 454.5,98.7 454.8,99.7 455.1,100.7 455.4,101.6 455.7,102.6 456.1,103.5 456.4,104.5 456.7,105.4 457.0,106.4 457.3,107.3 457.7,108.3 458.0,109.2 458.3,110.2 458.6,111.1 459.0,112.1 459.3,113.0 459.6,114.0 459.9,114.9 460.3,115.9 460.6,116.8 460.9,117.8 461.3,118.7 461.6,119.7 462.0,120.6 462.3,121.6 462.7,122.5 463.0,123.5 463.3,124.4 463.7,125.3 464.0,126.3 464.4,127.2 464.8,128.2 465.1,129.1 465.5,130.0 465.8,131.0 466.2,131.9 466.6,132.8 466.9,133.8 467.3,134.7 467.7,135.6 468.0,136.6 468.4,137.5 468.8,138.4 469.1,139.4 469.5,140.3 469.9,141.2 470.3,142.1 470.7,143.1 471.1,144.0 471.4,144.9 471.8,145.8 472.2,146.8 472.6,147.7 473.0,148.6 473.4,149.5 473.8,150.5 474.2,151.4 474.6,152.3 475.0,153.2 475.4,154.1 475.9,155.0 476.3,155.9 476.7,156.9 477.1,157.8 477.5,158.7 477.9,159.6 478.4,160.5 478.8,161.4 479.2,162.3 479.7,163.2 480.1,164.1 480.5,165.0 481.0,165.9 481.4,166.8 481.9,167.7 482.3,168.6 482.8,169.5 483.2,170.4 483.7,171.3 484.1,172.2 484.6,173.1 485.0,174.0 485.5,174.9 486.0,175.8 486.4,176.6 486.9,177.5 487.4,178.4 487.9,179.3 488.3,180.2 488.8,181.1 489.3,181.9 489.8,182.8 490.3,183.7 490.8,184.6 491.3,185.5 491.8,186.3 492.3,187.2 492.8,188.1 493.3,188.9 493.8,189.8 494.3,190.7 494.8,191.5 495.3,192.4 495.8,193.3 496.4,194.1 496.9,195.0 497.4,195.8 498.0,196.7 498.5,197.6 499.0,198.4 499.6,199.3 500.1,200.1 500.7,201.0 501.2,201.8 501.8,202.7 502.3,203.5 502.9,204.4 503.5,205.2 504.0,206.0 504.6,206.9 505.2,207.7 505.7,208.6 506.3,209.4 506.9,210.2 507.5,211.0 508.1,211.9 508.7,212.7 509.3,213.5 509.9,214.3 510.5,215.1 511.1,215.9 511.7,216.7 512.3,217.5 513.0,218.3 513.6,219.1 514.2,219.9 514.9,220.7 515.5,221.5 516.1,222.2 516.8,223.0 517.5,223.8 518.1,224.5 518.8,225.3 519.5,226.0 520.1,226.8 520.8,227.5 521.5,228.2 522.2,229.0 522.9,229.7 523.6,230.4 524.3,231.1 525.0,231.8 525.8,232.5 526.5,233.1 527.2,233.8 528.0,234.5 528.7,235.1 529.5,235.8 530.2,236.4 531.0,237.1 531.8,237.7 532.6,238.3 533.4,238.9 534.2,239.5 535.0,240.1 535.8,240.7 536.6,241.3 537.4,241.8 538.2,242.4 539.1,242.9 539.9,243.4 540.8,244.0 541.6,244.5 542.5,245.0 543.4,245.5 544.2,245.9 545.1,246.4 546.0,246.9 546.9,247.3 547.8,247.7 548.7,248.1 549.6,248.5 550.5,248.9 551.5,249.3 552.4,249.7 553.3,250.0 554.3,250.4 555.2,250.7 556.1,251.0 557.1,251.3 558.1,251.6 559.0,251.8 560.0,252.1 561.0,252.3 561.9,252.5 562.9,252.7 563.9,252.9 564.9,253.1 565.9,253.2 566.9,253.4 567.9,253.5 568.9,253.6 569.9,253.7 570.9,253.8 572.0,253.9 573.0,254.0 574.0,254.0 575.0,254.1 576.0,254.2 577.1,254.2 578.1,254.2 579.1,254.3 580.1,254.3 581.2,254.3 582.2,254.3 583.2,254.3 584.2,254.3 585.3,254.3 586.3,254.3 587.3,254.3 588.3,254.3 589.4,254.3 590.4,254.3 591.4,254.3 592.4,254.4 593.4,254.4 594.4,254.4 595.4,254.4 596.4,254.4 597.4,254.4 598.4,254.4 599.4,254.5 600.4,254.5 601.4,254.5 602.4,254.6 603.4,254.7 604.3,254.7 605.3,254.8" fill="none" stroke="#ff00ff" stroke-width="1.90" stroke-linejoin="round" />
<polygon points="449.1,23.3 449.3,24.3 449.5,25.3 449.7,26.3 449.9,27.2 450.1,28.2 450.4,29.2 450.6,30.2 450.8,31.2 451.0,32.1 451.2,33.1 451.5,34.1 451.7,35.1 451.9,36.1 452.1,37.0 452.4,38.0 452.6,39.0 452.8,40.0 453.1,41.0 453.3,41.9 453.6,42.9 453.8,43.9 454.0,44.9 454.3,45.8 454.5,46.8 454.8,47.8 455.0,48.8 455.3,49.7 455.5,50.7 455.8,51.7 456.1,52.6 456.3,53.6 456.6,54.6 456.8,55.6 457.1,56.5 457.4,57.5 457.6,58.5 457.9,59.4 458.2,60.4 458.5,61.4 458.7,62.3 459.0,63.3 459.3,64.3 459.6,65.2 459.9,66.2 460.1,67.2 460.4,68.1 460.7,69.1 461.0,70.1 461.3,71.0 461.6,72.0 461.9,73.0 462.2,73.9 462.5,74.9 462.7,75.9 463.0,76.8 463.3,77.8 463.6,78.7 463.9,79.7 464.2,80.7 464.6,81.6 464.9,82.6 465.2,83.5 465.5,84.5 465.8,85.5 466.1,86.4 466.4,87.4 466.7,88.3 467.0,89.3 467.4,90.2 467.7,91.2 468.0,92.2 468.3,93.1 468.6,94.1 469.0,95.0 469.3,96.0 469.6,96.9 469.9,97.9 470.3,98.8 470.6,99.8 470.9,100.7 471.3,101.7 471.6,102.6 471.9,103.6 472.3,104.5 472.6,105.5 472.9,106.4 473.3,107.4 473.6,108.3 473.9,109.3 474.3,110.2 474.6,111.2 475.0,112.1 475.3,113.1 475.7,114.0 476.0,115.0 476.4,115.9 476.7,116.9 477.1,117.8 477.4,118.7 477.8,119.7 478.1,120.6 478.5,121.6 478.8,122.5 479.2,123.5 479.5,124.4 479.9,125.3 480.3,126.3 480.6,127.2 481.0,128.2 481.3,129.1 481.7,130.0 482.1,131.0 482.4,131.9 482.8,132.8 483.2,133.8 483.5,134.7 483.9,135.7 484.3,136.6 484.6,137.5 485.0,138.5 485.4,139.4 485.7,140.3 486.1,141.3 486.5,142.2 486.9,143.1 487.2,144.1 487.6,145.0 488.0,145.9 488.4,146.9 488.7,147.8 489.1,148.7 489.5,149.6 489.9,150.6 490.2,151.5 490.6,152.4 491.0,153.4 491.4,154.3 491.8,155.2 492.2,156.1 492.6,157.1 493.0,158.0 493.3,158.9 493.7,159.8 494.1,160.7 494.5,161.7 494.9,162.6 495.3,163.5 495.7,164.4 496.1,165.3 496.5,166.3 497.0,167.2 497.4,168.1 497.8,169.0 498.2,169.9 498.6,170.8 499.0,171.7 499.4,172.6 499.9,173.5 500.3,174.5 500.7,175.4 501.2,176.3 501.6,177.2 502.0,178.1 502.5,179.0 502.9,179.9 503.4,180.8 503.8,181.7 504.3,182.6 504.7,183.5 505.2,184.4 505.6,185.3 506.1,186.2 506.5,187.1 507.0,188.0 507.4,188.9 507.8,189.8 508.3,190.7 508.7,191.6 509.1,192.5 509.6,193.4 510.0,194.3 510.4,195.3 510.8,196.2 511.2,197.1 511.6,198.0 512.0,199.0 512.5,199.9 512.9,200.8 513.3,201.7 513.7,202.6 514.2,203.5 514.6,204.4 515.1,205.3 515.5,206.2 516.0,207.1 516.5,207.9 517.0,208.8 517.5,209.6 518.1,210.4 518.6,211.2 519.2,212.0 519.8,212.8 520.4,213.6 521.0,214.4 521.7,215.1 522.3,215.9 523.0,216.6 523.7,217.3 524.4,218.0 525.1,218.7 525.8,219.4 526.5,220.1 527.3,220.8 528.0,221.5 528.8,222.2 529.5,222.9 530.3,223.5 531.0,224.2 531.8,224.9 532.6,225.5 533.3,226.2 534.1,226.9 534.9,227.5 535.7,228.2 536.4,228.9 537.2,229.5 538.0,230.2 538.7,230.9 539.5,231.6 540.2,232.3 541.0,233.0 541.7,233.7 542.5,234.4 543.2,235.0 544.0,235.7 544.7,236.4 545.5,237.1 546.2,237.8 547.0,238.5 547.7,239.1 548.5,239.8 549.3,240.4 550.0,241.1 550.8,241.7 551.6,242.3 552.4,242.9 553.2,243.5 554.0,244.1 554.8,244.6 555.6,245.2 556.5,245.7 557.3,246.2 558.2,246.7 559.0,247.1 559.9,247.6 560.8,248.0 561.7,248.4 562.6,248.8 563.5,249.2 564.4,249.6 565.4,249.9 566.3,250.3 567.3,250.6 568.2,250.9 569.2,251.2 570.2,251.5 571.1,251.7 572.1,252.0 573.1,252.2 574.1,252.4 575.1,252.6 576.1,252.8 577.1,253.0 578.1,253.2 579.1,253.3 580.1,253.5 581.1,253.6 582.1,253.8 583.2,253.9 584.2,254.0 585.2,254.1 586.2,254.2 587.2,254.3 588.3,254.4 589.3,254.4 590.3,254.5 591.3,254.5 592.3,254.6 593.4,254.6 594.4,254.7 595.4,254.7 596.4,254.7 597.4,254.8 598.4,254.8 599.4,254.8 600.4,254.8 601.4,254.8 602.4,254.8 603.4,254.8 604.3,254.8 605.3,254.8 605.3,254.8 604.3,254.8 603.4,254.8 602.4,254.8 601.4,254.7 600.4,254.7 599.4,254.7 598.5,254.7 597.5,254.7 596.5,254.7 595.5,254.7 594.4,254.6 593.4,254.6 592.4,254.6 591.4,254.5 590.4,254.5 589.4,254.5 588.4,254.4 587.3,254.4 586.3,254.3 585.3,254.2 584.3,254.2 583.3,254.1 582.2,254.0 581.2,253.9 580.2,253.8 579.2,253.7 578.2,253.6 577.2,253.5 576.1,253.3 575.1,253.2 574.1,253.0 573.1,252.9 572.1,252.7 571.1,252.5 570.1,252.3 569.2,252.1 568.2,251.9 567.2,251.6 566.2,251.4 565.2,251.1 564.3,250.9 563.3,250.6 562.4,250.3 561.4,249.9 560.5,249.6 559.6,249.2 558.7,248.9 557.7,248.5 556.8,248.1 555.9,247.7 555.1,247.2 554.2,246.8 553.3,246.3 552.4,245.8 551.6,245.3 550.8,244.8 549.9,244.2 549.1,243.7 548.3,243.1 547.5,242.5 546.7,241.9 545.9,241.3 545.1,240.6 544.3,240.0 543.6,239.3 542.8,238.7 542.0,238.0 541.3,237.3 540.5,236.7 539.8,236.0 539.0,235.3 538.3,234.6 537.5,233.9 536.8,233.2 536.0,232.6 535.3,231.9 534.5,231.2 533.8,230.5 533.1,229.8 532.3,229.2 531.6,228.5 530.8,227.9 530.0,227.2 529.2,226.6 528.4,226.0 527.6,225.4 526.8,224.8 526.0,224.2 525.2,223.6 524.4,223.0 523.5,222.4 522.7,221.8 521.9,221.2 521.1,220.6 520.3,219.9 519.6,219.3 518.8,218.6 518.1,218.0 517.4,217.2 516.8,216.5 516.2,215.8 515.6,215.0 515.0,214.2 514.4,213.4 513.9,212.5 513.4,211.7 512.9,210.8 512.4,210.0 511.9,209.1 511.5,208.2 511.0,207.3 510.6,206.4 510.1,205.5 509.7,204.6 509.2,203.7 508.8,202.8 508.4,201.9 507.9,201.0 507.5,200.1 507.0,199.2 506.6,198.3 506.2,197.4 505.7,196.5 505.3,195.5 504.8,194.6 504.4,193.7 504.0,192.8 503.5,191.9 503.1,191.0 502.6,190.1 502.2,189.2 501.7,188.3 501.3,187.4 500.9,186.5 500.4,185.6 500.0,184.7 499.5,183.8 499.1,182.9 498.7,182.0 498.2,181.1 497.8,180.2 497.3,179.3 496.9,178.4 496.5,177.5 496.0,176.6 495.6,175.7 495.2,174.8 494.7,173.9 494.3,173.0 493.8,172.1 493.4,171.2 493.0,170.2 492.5,169.3 492.1,168.4 491.7,167.5 491.3,166.6 490.8,165.7 490.4,164.8 490.0,163.9 489.5,163.0 489.1,162.1 488.7,161.2 488.3,160.3 487.9,159.4 487.4,158.5 487.0,157.5 486.6,156.6 486.2,155.7 485.8,154.8 485.4,153.9 485.0,153.0 484.5,152.1 484.1,151.1 483.7,150.2 483.3,149.3 482.9,148.4 482.5,147.5 482.1,146.6 481.7,145.6 481.3,144.7 480.9,143.8 480.5,142.9 480.2,142.0 479.8,141.0 479.4,140.1 479.0,139.2 478.6,138.3 478.2,137.3 477.9,136.4 477.5,135.5 477.1,134.5 476.7,133.6 476.4,132.7 476.0,131.7 475.6,130.8 475.3,129.9 474.9,128.9 474.5,128.0 474.2,127.1 473.8,126.1 473.4,125.2 473.1,124.3 472.7,123.3 472.4,122.4 472.0,121.4 471.7,120.5 471.3,119.6 471.0,118.6 470.6,117.7 470.3,116.7 470.0,115.8 469.6,114.8 469.3,113.9 468.9,113.0 468.6,112.0 468.3,111.1 467.9,110.1 467.6,109.2 467.3,108.2 467.0,107.3 466.6,106.3 466.3,105.4 466.0,104.4 465.7,103.5 465.3,102.5 465.0,101.6 464.7,100.6 464.4,99.7 464.1,98.7 463.8,97.7 463.4,96.8 463.1,95.8 462.8,94.9 462.5,93.9 462.2,93.0 461.9,92.0 461.6,91.0 461.3,90.1 461.0,89.1 460.7,88.2 460.4,87.2 460.1,86.2 459.8,85.3 459.5,84.3 459.2,83.4 458.9,82.4 458.6,81.4 458.3,80.5 458.0,79.5 457.8,78.6 457.5,77.6 457.2,76.6 456.9,75.7 456.6,74.7 456.3,73.7 456.0,72.8 455.8,71.8 455.5,70.8 455.2,69.9 454.9,68.9 454.7,67.9 454.4,67.0 454.1,66.0 453.8,65.0 453.6,64.1 453.3,63.1 453.0,62.1 452.8,61.2 452.5,60.2 452.2,59.2 452.0,58.3 451.7,57.3 451.4,56.3 451.2,55.3 450.9,54.4 450.6,53.4 450.4,52.4 450.1,51.5 449.9,50.5 449.6,49.5 449.3,48.6 449.1,47.6 448.8,46.6 448.6,45.6 448.3,44.7 448.1,43.7 447.8,42.7 447.6,41.8 447.3,40.8 447.1,39.8 446.8,38.8 446.6,37.9 446.3,36.9 446.1,35.9 445.8,35.0 445.6,34.0 445.3,33.0 445.1,32.0 444.8,31.1 444.6,30.1 444.3,29.1 444.1,28.2 443.9,27.2 443.6,26.2 443.4,25.2 443.1,24.3 442.9,23.3" fill="#5ad3cf" />
<polyline points="449.7,23.3 449.9,24.3 450.1,25.3 450.3,26.2 450.5,27.2 450.8,28.2 451.0,29.2 451.2,30.2 451.4,31.1 451.6,32.1 451.9,33.1 452.1,34.1 452.3,35.1 452.6,36.0 452.8,37.0 453.0,38.0 453.3,39.0 453.5,39.9 453.7,40.9 454.0,41.9 454.2,42.9 454.4,43.8 454.7,44.8 454.9,45.8 455.2,46.8 455.4,47.7 455.7,48.7 455.9,49.7 456.2,50.6 456.4,51.6 456.7,52.6 457.0,53.6 457.2,54.5 457.5,55.5 457.8,56.5 458.0,57.4 458.3,58.4 458.6,59.4 458.8,60.3 459.1,61.3 459.4,62.3 459.6,63.2 459.9,64.2 460.2,65.2 460.5,66.1 460.8,67.1 461.0,68.1 461.3,69.0 461.6,70.0 461.9,71.0 462.2,71.9 462.5,72.9 462.8,73.8 463.1,74.8 463.4,75.8 463.7,76.7 464.0,77.7 464.3,78.6 464.6,79.6 464.9,80.6 465.2,81.5 465.5,82.5 465.8,83.4 466.1,84.4 466.4,85.4 466.7,86.3 467.0,87.3 467.3,88.2 467.7,89.2 468.0,90.1 468.3,91.1 468.6,92.0 468.9,93.0 469.3,93.9 469.6,94.9 469.9,95.8 470.2,96.8 470.6,97.7 470.9,98.7 471.2,99.6 471.6,100.6 471.9,101.5 472.3,102.5 472.6,103.4 472.9,104.4 473.3,105.3 473.6,106.3 474.0,107.2 474.3,108.2 474.7,109.1 475.0,110.0 475.4,111.0 475.7,111.9 476.1,112.9 476.4,113.8 476.8,114.7 477.1,115.7 477.5,116.6 477.9,117.6 478.2,118.5 478.6,119.4 479.0,120.4 479.3,121.3 479.7,122.2 480.1,123.2 480.4,124.1 480.8,125.0 481.2,126.0 481.6,126.9 481.9,127.8 482.3,128.8 482.7,129.7 483.1,130.6 483.5,131.6 483.8,132.5 484.2,133.4 484.6,134.4 485.0,135.3 485.4,136.2 485.8,137.1 486.2,138.1 486.6,139.0 487.0,139.9 487.4,140.8 487.8,141.7 488.2,142.7 488.6,143.6 489.0,144.5 489.4,145.4 489.8,146.3 490.2,147.3 490.6,148.2 491.0,149.1 491.4,150.0 491.9,150.9 492.3,151.8 492.7,152.8 493.1,153.7 493.5,154.6 494.0,155.5 494.4,156.4 494.8,157.3 495.2,158.2 495.7,159.1 496.1,160.0 496.5,160.9 497.0,161.8 497.4,162.7 497.9,163.6 498.3,164.5 498.8,165.4 499.2,166.3 499.7,167.2 500.1,168.1 500.6,169.0 501.0,169.9 501.5,170.8 502.0,171.6 502.5,172.5 502.9,173.4 503.4,174.3 503.9,175.2 504.4,176.0 504.9,176.9 505.3,177.8 505.8,178.7 506.3,179.5 506.8,180.4 507.3,181.2 507.8,182.1 508.4,183.0 508.9,183.8 509.4,184.7 509.9,185.5 510.4,186.4 511.0,187.2 511.5,188.1 512.0,188.9 512.6,189.7 513.1,190.6 513.7,191.4 514.2,192.2 514.8,193.1 515.3,193.9 515.9,194.7 516.5,195.6 517.0,196.4 517.6,197.2 518.2,198.0 518.8,198.8 519.3,199.6 519.9,200.5 520.5,201.3 521.1,202.1 521.7,202.9 522.2,203.7 522.8,204.6 523.4,205.4 524.0,206.2 524.6,207.0 525.2,207.8 525.7,208.7 526.3,209.5 526.9,210.3 527.5,211.2 528.0,212.0 528.6,212.8 529.2,213.7 529.8,214.5 530.4,215.4 530.9,216.2 531.5,217.0 532.1,217.9 532.7,218.7 533.2,219.5 533.8,220.4 534.4,221.2 535.0,222.0 535.6,222.9 536.2,223.7 536.8,224.5 537.4,225.3 538.0,226.1 538.6,226.9 539.2,227.7 539.8,228.5 540.5,229.3 541.1,230.1 541.7,230.9 542.4,231.6 543.0,232.4 543.7,233.2 544.4,233.9 545.0,234.6 545.7,235.4 546.4,236.1 547.1,236.8 547.8,237.5 548.5,238.2 549.2,238.9 549.9,239.6 550.7,240.2 551.4,240.9 552.2,241.5 553.0,242.2 553.7,242.8 554.5,243.4 555.3,244.0 556.1,244.6 556.9,245.1 557.8,245.7 558.6,246.2 559.4,246.7 560.3,247.2 561.2,247.7 562.0,248.2 562.9,248.7 563.8,249.1 564.7,249.6 565.6,250.0 566.5,250.4 567.4,250.7 568.3,251.1 569.3,251.4 570.2,251.8 571.2,252.1 572.1,252.4 573.1,252.6 574.1,252.9 575.1,253.1 576.0,253.3 577.0,253.5 578.0,253.7 579.0,253.9 580.0,254.0 581.1,254.2 582.1,254.3 583.1,254.4 584.1,254.5 585.1,254.6 586.2,254.6 587.2,254.7 588.2,254.8 589.2,254.8 590.3,254.8 591.3,254.9 592.3,254.9 593.3,254.9 594.4,254.9 595.4,254.9 596.4,254.9 597.4,254.9 598.4,254.9 599.4,254.9 600.4,254.9 601.4,254.9 602.4,254.9 603.4,254.8 604.3,254.8 605.3,254.8" fill="none" stroke="#0000cc" stroke-width="1.80" stroke-linejoin="round" />
<polyline points="451.1,23.3 451.3,24.3 451.5,25.3 451.7,26.2 451.9,27.2 452.2,28.2 452.4,29.2 452.6,30.2 452.8,31.1 453.0,32.1 453.3,33.1 453.5,34.1 453.7,35.1 453.9,36.0 454.2,37.0 454.4,38.0 454.6,39.0 454.9,39.9 455.1,40.9 455.3,41.9 455.6,42.9 455.8,43.9 456.1,44.8 456.3,45.8 456.5,46.8 456.8,47.8 457.0,48.7 457.3,49.7 457.5,50.7 457.8,51.6 458.0,52.6 458.3,53.6 458.6,54.6 458.8,55.5 459.1,56.5 459.3,57.5 459.6,58.4 459.9,59.4 460.1,60.4 460.4,61.4 460.7,62.3 460.9,63.3 461.2,64.3 461.5,65.2 461.8,66.2 462.0,67.2 462.3,68.1 462.6,69.1 462.9,70.1 463.2,71.0 463.5,72.0 463.7,73.0 464.0,73.9 464.3,74.9 464.6,75.9 464.9,76.8 465.2,77.8 465.5,78.7 465.8,79.7 466.1,80.7 466.4,81.6 466.7,82.6 467.0,83.5 467.3,84.5 467.6,85.5 467.9,86.4 468.2,87.4 468.5,88.3 468.9,89.3 469.2,90.2 469.5,91.2 469.8,92.1 470.1,93.1 470.5,94.1 470.8,95.0 471.1,96.0 471.4,96.9 471.8,97.9 472.1,98.8 472.4,99.8 472.8,100.7 473.1,101.7 473.4,102.6 473.8,103.6 474.1,104.5 474.5,105.4 474.8,106.4 475.2,107.3 475.5,108.3 475.9,109.2 476.2,110.2 476.6,111.1 476.9,112.0 477.3,113.0 477.6,113.9 478.0,114.9 478.4,115.8 478.7,116.7 479.1,117.7 479.5,118.6 479.8,119.5 480.2,120.5 480.6,121.4 480.9,122.4 481.3,123.3 481.7,124.2 482.1,125.1 482.5,126.1 482.8,127.0 483.2,127.9 483.6,128.9 484.0,129.8 484.4,130.7 484.8,131.6 485.2,132.6 485.6,133.5 486.0,134.4 486.4,135.3 486.8,136.3 487.2,137.2 487.6,138.1 488.0,139.0 488.4,139.9 488.8,140.9 489.2,141.8 489.6,142.7 490.0,143.6 490.5,144.5 490.9,145.4 491.3,146.3 491.7,147.3 492.1,148.2 492.6,149.1 493.0,150.0 493.4,150.9 493.9,151.8 494.3,152.7 494.7,153.6 495.2,154.5 495.6,155.4 496.1,156.3 496.5,157.2 497.0,158.1 497.4,159.0 497.9,159.9 498.3,160.8 498.8,161.7 499.2,162.6 499.7,163.5 500.1,164.4 500.6,165.3 501.1,166.2 501.6,167.0 502.0,167.9 502.5,168.8 503.0,169.7 503.5,170.6 503.9,171.5 504.4,172.3 504.9,173.2 505.4,174.1 505.9,175.0 506.4,175.8 506.9,176.7 507.4,177.6 507.9,178.4 508.4,179.3 508.9,180.2 509.4,181.0 509.9,181.9 510.4,182.7 511.0,183.6 511.5,184.5 512.0,185.3 512.5,186.2 513.1,187.0 513.6,187.9 514.1,188.7 514.7,189.6 515.2,190.4 515.7,191.2 516.3,192.1 516.8,192.9 517.4,193.8 518.0,194.6 518.5,195.4 519.1,196.2 519.6,197.1 520.2,197.9 520.8,198.7 521.4,199.5 521.9,200.4 522.5,201.2 523.1,202.0 523.7,202.8 524.3,203.6 524.9,204.4 525.5,205.2 526.1,206.0 526.7,206.8 527.3,207.6 527.9,208.4 528.5,209.2 529.1,210.0 529.7,210.8 530.4,211.6 531.0,212.4 531.6,213.2 532.3,213.9 532.9,214.7 533.5,215.5 534.2,216.3 534.8,217.0 535.5,217.8 536.1,218.6 536.8,219.3 537.5,220.1 538.1,220.8 538.8,221.6 539.5,222.3 540.2,223.1 540.8,223.8 541.5,224.6 542.2,225.3 542.9,226.1 543.6,226.8 544.3,227.5 545.0,228.2 545.7,229.0 546.4,229.7 547.1,230.4 547.8,231.1 548.5,231.8 549.2,232.5 550.0,233.2 550.7,233.9 551.4,234.6 552.1,235.3 552.9,236.0 553.6,236.7 554.4,237.4 555.1,238.1 555.9,238.8 556.6,239.4 557.4,240.1 558.1,240.8 558.9,241.4 559.6,242.1 560.4,242.7 561.2,243.4 562.0,244.0 562.7,244.7 563.5,245.3 564.3,245.9 565.1,246.5 565.9,247.1 566.7,247.7 567.5,248.3 568.4,248.8 569.2,249.4 570.0,249.9 570.9,250.4 571.7,250.9 572.6,251.3 573.5,251.7 574.4,252.1 575.3,252.5 576.2,252.9 577.1,253.2 578.1,253.5 579.0,253.7 580.0,253.9 581.0,254.1 582.0,254.3 583.0,254.5 584.0,254.6 585.0,254.7 586.0,254.8 587.0,254.8 588.1,254.9 589.1,254.9 590.1,254.9 591.2,254.9 592.2,254.9 593.3,254.9 594.3,254.9 595.3,254.9 596.4,254.8 597.4,254.8 598.4,254.8 599.4,254.8 600.4,254.7 601.4,254.7 602.4,254.7 603.4,254.7 604.4,254.8 605.3,254.8" fill="none" stroke="#2fcc2f" stroke-width="1.90" stroke-linejoin="round" />
<polygon points="379.1,251.7 380.1,251.6 381.1,251.5 382.1,251.4 383.1,251.3 384.1,251.2 385.1,251.1 386.1,250.9 387.1,250.8 388.1,250.7 389.1,250.6 390.1,250.4 391.1,250.3 392.1,250.2 393.1,250.0 394.1,249.9 395.1,249.7 396.1,249.6 397.1,249.4 398.0,249.3 399.0,249.1 400.0,249.0 401.0,248.8 402.0,248.6 403.0,248.4 404.0,248.3 405.0,248.1 406.0,247.9 407.0,247.7 408.0,247.5 409.0,247.3 410.0,247.1 410.9,246.9 411.9,246.7 412.9,246.5 413.9,246.3 414.9,246.1 415.9,245.8 416.9,245.6 417.8,245.4 418.8,245.1 419.8,244.9 420.8,244.7 421.8,244.4 422.7,244.2 423.7,243.9 424.7,243.6 425.6,243.4 426.6,243.1 427.6,242.8 428.5,242.5 429.5,242.3 430.5,242.0 431.4,241.7 432.4,241.4 433.4,241.1 434.3,240.8 435.3,240.4 436.2,240.1 437.2,239.8 438.1,239.5 439.1,239.1 440.0,238.8 441.0,238.5 441.9,238.1 442.9,237.8 443.8,237.4 444.7,237.0 445.7,236.7 446.6,236.3 447.5,235.9 448.5,235.5 449.4,235.1 450.3,234.7 451.2,234.3 452.2,233.9 453.1,233.5 454.0,233.1 454.9,232.7 455.8,232.2 456.7,231.8 457.6,231.4 458.5,230.9 459.4,230.5 460.3,230.0 461.2,229.6 462.1,229.1 463.0,228.6 463.9,228.1 464.8,227.6 465.7,227.2 466.5,226.7 467.4,226.1 468.3,225.6 469.2,225.1 470.0,224.6 470.9,224.1 471.7,223.5 472.6,223.0 473.5,222.5 474.3,221.9 475.2,221.3 476.0,220.8 476.8,220.2 477.7,219.7 478.5,219.1 479.3,218.5 480.2,217.9 481.0,217.3 481.8,216.7 482.6,216.1 483.5,215.5 484.3,214.9 485.1,214.3 485.9,213.7 486.7,213.1 487.5,212.5 488.3,211.8 489.1,211.2 489.9,210.6 490.7,209.9 491.5,209.3 492.2,208.6 493.0,208.0 493.8,207.3 494.6,206.7 495.3,206.0 496.1,205.4 496.9,204.7 497.6,204.1 498.4,203.4 499.1,202.7 499.9,202.1 500.6,201.4 501.4,200.7 502.1,200.0 502.9,199.4 503.6,198.7 504.3,198.0 505.0,197.3 505.8,196.6 506.5,195.9 507.2,195.3 507.9,194.6 508.6,193.9 509.4,193.2 510.1,192.5 510.8,191.8 511.5,191.1 512.2,190.4 512.9,189.7 513.6,189.0 514.3,188.3 515.0,187.6 515.7,186.9 516.4,186.2 517.1,185.5 517.8,184.8 518.5,184.1 519.2,183.4 519.9,182.7 520.7,182.0 521.4,181.3 522.1,180.6 522.8,179.9 523.5,179.2 524.2,178.5 524.9,177.8 525.6,177.1 526.4,176.4 527.1,175.7 527.8,175.0 528.5,174.3 529.3,173.6 530.0,173.0 530.7,172.3 531.5,171.6 532.2,170.9 533.0,170.2 533.7,169.5 534.5,168.8 535.3,168.1 536.0,167.5 536.8,166.8 537.6,166.1 538.4,165.4 539.2,164.8 540.0,164.1 540.7,163.4 541.5,162.8 542.3,162.1 543.1,161.5 543.9,161.0 544.7,160.4 545.5,159.9 546.3,159.5 547.1,159.1 547.9,158.7 548.7,158.4 549.5,158.2 550.3,158.0 551.0,157.9 551.8,157.9 552.5,157.9 553.3,158.0 554.1,158.1 554.9,158.3 555.7,158.6 556.5,158.9 557.3,159.3 558.1,159.7 558.9,160.2 559.6,160.8 560.4,161.4 561.0,162.0 561.7,162.7 562.3,163.4 562.9,164.1 563.5,164.9 564.1,165.7 564.6,166.5 565.1,167.4 565.6,168.3 566.1,169.2 566.6,170.1 567.1,171.0 567.5,171.9 568.0,172.9 568.4,173.8 568.9,174.7 569.3,175.6 569.7,176.5 570.1,177.4 570.5,178.4 570.9,179.3 571.3,180.2 571.6,181.1 572.0,182.1 572.4,183.0 572.7,183.9 573.1,184.9 573.4,185.8 573.7,186.7 574.0,187.6 574.3,188.6 574.7,189.5 575.0,190.5 575.3,191.4 575.6,192.3 575.8,193.3 576.1,194.2 576.4,195.1 576.7,196.1 577.0,197.0 577.3,198.0 577.5,198.9 577.8,199.9 578.1,200.8 578.3,201.8 578.6,202.8 578.8,203.7 579.1,204.7 579.3,205.6 579.6,206.6 579.8,207.6 580.1,208.5 580.3,209.5 580.6,210.5 580.8,211.5 581.1,212.5 581.3,213.5 581.5,214.4 581.8,215.4 582.0,216.4 582.3,217.4 582.5,218.4 582.8,219.4 583.0,220.4 583.3,221.4 583.5,222.4 583.8,223.4 584.1,224.3 584.3,225.3 584.6,226.3 584.9,227.3 585.2,228.3 585.5,229.3 585.8,230.2 586.1,231.2 586.4,232.2 586.7,233.1 587.0,234.1 587.4,235.1 587.7,236.0 588.1,237.0 588.4,237.9 588.8,238.8 589.2,239.8 589.6,240.7 590.0,241.6 590.4,242.5 590.8,243.4 591.2,244.3 591.7,245.2 592.1,246.1 592.6,247.0 593.1,247.9 593.6,248.7 594.1,249.6 594.6,250.4 595.2,251.2 595.8,252.0 596.5,252.7 597.2,253.4 598.0,254.0 598.8,254.5 599.7,255.0 600.7,255.3 601.7,255.5 602.9,255.6 604.1,255.6 605.4,255.4 605.2,254.2 604.0,254.4 602.9,254.4 601.9,254.3 601.0,254.1 600.2,253.8 599.4,253.5 598.6,253.0 598.0,252.5 597.3,251.9 596.7,251.2 596.2,250.5 595.6,249.8 595.1,249.0 594.6,248.1 594.1,247.3 593.6,246.4 593.2,245.6 592.7,244.7 592.3,243.8 591.9,242.9 591.5,242.0 591.1,241.1 590.7,240.2 590.3,239.3 589.9,238.4 589.5,237.5 589.2,236.5 588.8,235.6 588.5,234.7 588.2,233.7 587.9,232.8 587.5,231.8 587.2,230.8 586.9,229.9 586.6,228.9 586.3,227.9 586.1,227.0 585.8,226.0 585.5,225.0 585.2,224.0 585.0,223.0 584.7,222.1 584.5,221.1 584.2,220.1 583.9,219.1 583.7,218.1 583.4,217.1 583.2,216.1 583.0,215.1 582.7,214.2 582.5,213.2 582.2,212.2 582.0,211.2 581.7,210.2 581.5,209.2 581.3,208.3 581.0,207.3 580.8,206.3 580.5,205.3 580.3,204.4 580.0,203.4 579.8,202.4 579.5,201.5 579.3,200.5 579.0,199.5 578.8,198.6 578.5,197.6 578.2,196.7 577.9,195.7 577.7,194.8 577.4,193.8 577.1,192.9 576.8,191.9 576.5,191.0 576.2,190.0 575.9,189.1 575.6,188.2 575.3,187.2 575.0,186.3 574.7,185.3 574.4,184.4 574.0,183.4 573.7,182.5 573.4,181.6 573.0,180.6 572.7,179.7 572.4,178.7 572.0,177.8 571.6,176.8 571.3,175.9 570.9,174.9 570.5,174.0 570.2,173.0 569.8,172.0 569.4,171.1 569.0,170.1 568.6,169.2 568.1,168.2 567.7,167.2 567.2,166.3 566.7,165.3 566.2,164.4 565.7,163.5 565.1,162.6 564.5,161.7 563.8,160.8 563.1,160.0 562.3,159.2 561.5,158.5 560.7,157.8 559.8,157.1 558.8,156.6 557.9,156.0 556.9,155.6 555.9,155.2 554.8,154.9 553.8,154.7 552.7,154.6 551.7,154.6 550.6,154.7 549.6,154.8 548.6,155.1 547.6,155.4 546.7,155.8 545.7,156.3 544.8,156.8 543.9,157.3 543.1,157.9 542.2,158.5 541.3,159.1 540.5,159.8 539.7,160.5 538.9,161.2 538.1,161.9 537.3,162.6 536.5,163.3 535.7,164.0 534.9,164.7 534.1,165.4 533.4,166.1 532.6,166.8 531.9,167.5 531.1,168.2 530.4,168.9 529.6,169.6 528.9,170.3 528.1,171.0 527.4,171.7 526.7,172.4 525.9,173.1 525.2,173.8 524.5,174.5 523.8,175.2 523.1,175.9 522.3,176.6 521.6,177.4 520.9,178.1 520.2,178.8 519.5,179.5 518.8,180.2 518.1,180.9 517.4,181.6 516.7,182.3 516.0,183.0 515.3,183.7 514.6,184.4 513.9,185.1 513.2,185.8 512.5,186.5 511.8,187.2 511.1,187.9 510.4,188.6 509.7,189.3 509.0,190.0 508.3,190.7 507.6,191.4 506.9,192.1 506.2,192.8 505.5,193.5 504.8,194.2 504.1,194.9 503.4,195.5 502.7,196.2 501.9,196.9 501.2,197.6 500.5,198.3 499.8,198.9 499.0,199.6 498.3,200.3 497.6,201.0 496.8,201.6 496.1,202.3 495.3,203.0 494.6,203.6 493.8,204.3 493.1,204.9 492.3,205.6 491.5,206.2 490.8,206.9 490.0,207.5 489.2,208.1 488.4,208.8 487.7,209.4 486.9,210.0 486.1,210.7 485.3,211.3 484.5,211.9 483.7,212.5 482.9,213.1 482.1,213.7 481.3,214.3 480.5,214.9 479.7,215.5 478.9,216.1 478.1,216.7 477.3,217.3 476.4,217.8 475.6,218.4 474.8,219.0 474.0,219.5 473.1,220.1 472.3,220.6 471.4,221.2 470.6,221.7 469.8,222.3 468.9,222.8 468.1,223.3 467.2,223.8 466.3,224.3 465.5,224.8 464.6,225.3 463.8,225.8 462.9,226.3 462.0,226.8 461.1,227.3 460.3,227.7 459.4,228.2 458.5,228.7 457.6,229.1 456.7,229.6 455.8,230.0 454.9,230.4 454.0,230.9 453.1,231.3 452.2,231.7 451.3,232.1 450.4,232.5 449.5,232.9 448.6,233.3 447.7,233.7 446.8,234.1 445.9,234.5 444.9,234.8 444.0,235.2 443.1,235.6 442.2,235.9 441.2,236.3 440.3,236.6 439.4,237.0 438.4,237.3 437.5,237.7 436.6,238.0 435.6,238.3 434.7,238.6 433.7,238.9 432.8,239.3 431.8,239.6 430.9,239.9 429.9,240.2 429.0,240.4 428.0,240.7 427.1,241.0 426.1,241.3 425.1,241.6 424.2,241.8 423.2,242.1 422.2,242.4 421.3,242.6 420.3,242.9 419.3,243.1 418.4,243.4 417.4,243.6 416.4,243.8 415.5,244.1 414.5,244.3 413.5,244.5 412.5,244.7 411.6,244.9 410.6,245.1 409.6,245.4 408.6,245.6 407.6,245.8 406.6,245.9 405.7,246.1 404.7,246.3 403.7,246.5 402.7,246.7 401.7,246.8 400.7,247.0 399.7,247.2 398.8,247.3 397.8,247.5 396.8,247.7 395.8,247.8 394.8,248.0 393.8,248.1 392.8,248.3 391.8,248.4 390.8,248.5 389.8,248.7 388.8,248.8 387.9,248.9 386.9,249.0 385.9,249.2 384.9,249.3 383.9,249.4 382.9,249.5 381.9,249.6 380.9,249.7 379.9,249.8 378.9,249.9" fill="#0000ff"/>
<polygon points="379.0,254.2 380.0,254.2 381.0,254.1 382.1,254.1 383.1,254.1 384.1,254.0 385.1,254.0 386.1,254.0 387.1,253.9 388.1,253.9 389.1,253.8 390.1,253.8 391.1,253.7 392.1,253.6 393.2,253.6 394.2,253.5 395.2,253.4 396.2,253.4 397.2,253.3 398.2,253.2 399.2,253.1 400.2,253.0 401.2,253.0 402.2,252.9 403.2,252.8 404.2,252.7 405.2,252.6 406.3,252.5 407.3,252.4 408.3,252.3 409.3,252.1 410.3,252.0 411.3,251.9 412.3,251.8 413.3,251.6 414.3,251.5 415.3,251.4 416.3,251.2 417.3,251.1 418.3,250.9 419.3,250.8 420.3,250.6 421.3,250.5 422.3,250.3 423.3,250.2 424.3,250.0 425.3,249.8 426.3,249.6 427.3,249.4 428.3,249.3 429.2,249.1 430.2,248.9 431.2,248.7 432.2,248.5 433.2,248.3 434.2,248.1 435.2,247.8 436.2,247.6 437.2,247.4 438.1,247.2 439.1,246.9 440.1,246.7 441.1,246.4 442.1,246.2 443.0,245.9 444.0,245.7 445.0,245.4 446.0,245.2 447.0,244.9 447.9,244.6 448.9,244.3 449.9,244.1 450.8,243.8 451.8,243.5 452.8,243.2 453.7,242.9 454.7,242.6 455.7,242.2 456.6,241.9 457.6,241.6 458.6,241.3 459.5,240.9 460.5,240.6 461.4,240.2 462.4,239.9 463.3,239.6 464.3,239.2 465.2,238.8 466.2,238.5 467.1,238.1 468.1,237.7 469.0,237.4 470.0,237.0 470.9,236.6 471.9,236.2 472.8,235.9 473.7,235.5 474.7,235.1 475.6,234.7 476.5,234.3 477.5,233.9 478.4,233.5 479.3,233.1 480.3,232.7 481.2,232.4 482.1,232.0 483.0,231.6 484.0,231.1 484.9,230.8 485.8,230.4 486.7,230.0 487.7,229.6 488.6,229.2 489.5,228.8 490.4,228.4 491.3,228.0 492.2,227.5 493.1,227.1 494.0,226.7 494.9,226.3 495.8,225.9 496.8,225.5 497.7,225.1 498.6,224.7 499.5,224.3 500.4,223.9 501.3,223.5 502.2,223.1 503.1,222.7 504.0,222.3 504.9,221.9 505.8,221.5 506.7,221.1 507.7,220.7 508.6,220.3 509.5,219.9 510.4,219.5 511.3,219.1 512.3,218.7 513.2,218.3 514.1,218.0 515.1,217.6 516.0,217.2 517.0,216.8 517.9,216.5 518.9,216.1 519.8,215.7 520.8,215.4 521.8,215.0 522.7,214.6 523.7,214.3 524.7,213.9 525.7,213.6 526.7,213.3 527.6,212.9 528.6,212.6 529.6,212.3 530.6,212.0 531.6,211.7 532.6,211.5 533.6,211.2 534.5,211.0 535.5,210.8 536.5,210.6 537.5,210.4 538.4,210.2 539.4,210.1 540.4,210.0 541.3,209.9 542.3,209.8 543.2,209.7 544.2,209.7 545.1,209.7 546.0,209.7 547.0,209.8 547.9,209.8 548.8,209.9 549.7,210.1 550.6,210.2 551.5,210.4 552.4,210.6 553.2,210.8 554.1,211.1 555.0,211.4 555.8,211.7 556.7,212.1 557.5,212.4 558.3,212.8 559.1,213.2 559.9,213.7 560.7,214.2 561.5,214.7 562.3,215.2 563.0,215.7 563.7,216.3 564.5,216.9 565.2,217.5 565.9,218.2 566.6,218.9 567.2,219.6 567.9,220.3 568.5,221.0 569.2,221.8 569.8,222.6 570.4,223.4 571.0,224.2 571.6,225.1 572.1,225.9 572.7,226.8 573.2,227.7 573.8,228.6 574.3,229.5 574.9,230.4 575.4,231.3 575.9,232.2 576.4,233.2 576.9,234.1 577.5,235.0 578.0,236.0 578.5,236.9 579.0,237.8 579.5,238.7 580.0,239.7 580.5,240.6 581.0,241.5 581.5,242.4 582.1,243.3 582.6,244.1 583.2,245.0 583.7,245.8 584.3,246.6 584.9,247.4 585.5,248.2 586.1,248.9 586.8,249.6 587.4,250.3 588.1,251.0 588.8,251.6 589.6,252.2 590.3,252.7 591.1,253.2 591.9,253.7 592.8,254.2 593.6,254.6 594.5,254.9 595.5,255.2 596.4,255.4 597.4,255.6 598.5,255.8 599.5,255.9 600.6,255.9 601.8,255.9 602.9,255.8 604.2,255.7 605.4,255.4 605.2,254.2 604.0,254.4 602.8,254.5 601.7,254.6 600.6,254.6 599.6,254.6 598.6,254.5 597.6,254.4 596.7,254.2 595.8,254.0 595.0,253.7 594.1,253.4 593.3,253.0 592.6,252.6 591.8,252.1 591.1,251.6 590.4,251.1 589.7,250.5 589.1,249.9 588.5,249.3 587.8,248.7 587.2,248.0 586.7,247.2 586.1,246.5 585.5,245.7 585.0,244.9 584.4,244.1 583.9,243.3 583.4,242.5 582.9,241.6 582.4,240.7 581.9,239.8 581.4,238.9 580.9,238.0 580.4,237.1 579.9,236.1 579.4,235.2 578.9,234.2 578.4,233.3 577.9,232.4 577.4,231.4 576.9,230.5 576.4,229.5 575.9,228.6 575.4,227.7 574.9,226.7 574.3,225.8 573.8,224.9 573.2,224.0 572.7,223.1 572.1,222.2 571.5,221.3 570.9,220.5 570.3,219.6 569.7,218.8 569.0,218.0 568.4,217.2 567.7,216.4 567.0,215.7 566.3,214.9 565.5,214.2 564.8,213.6 564.0,212.9 563.2,212.3 562.3,211.7 561.5,211.1 560.6,210.6 559.7,210.1 558.9,209.6 557.9,209.2 557.0,208.8 556.1,208.4 555.1,208.0 554.2,207.7 553.2,207.5 552.2,207.2 551.2,207.0 550.2,206.8 549.2,206.7 548.2,206.6 547.2,206.5 546.1,206.4 545.1,206.4 544.1,206.4 543.1,206.5 542.0,206.6 541.0,206.7 540.0,206.8 538.9,206.9 537.9,207.1 536.9,207.3 535.9,207.5 534.8,207.7 533.8,207.9 532.8,208.2 531.8,208.5 530.7,208.8 529.7,209.1 528.7,209.4 527.7,209.7 526.7,210.1 525.7,210.4 524.7,210.8 523.7,211.1 522.7,211.5 521.7,211.9 520.7,212.3 519.8,212.7 518.8,213.0 517.8,213.4 516.9,213.8 515.9,214.2 515.0,214.6 514.0,215.0 513.1,215.4 512.1,215.8 511.2,216.2 510.3,216.6 509.4,217.1 508.4,217.5 507.5,217.9 506.6,218.3 505.7,218.7 504.8,219.1 503.9,219.5 503.0,219.9 502.0,220.3 501.1,220.8 500.2,221.2 499.3,221.6 498.4,222.0 497.5,222.4 496.6,222.8 495.7,223.3 494.8,223.7 493.9,224.1 493.0,224.5 492.1,224.9 491.2,225.3 490.3,225.8 489.4,226.2 488.5,226.6 487.6,227.0 486.7,227.4 485.8,227.9 484.9,228.3 484.0,228.7 483.1,229.1 482.2,229.6 481.2,230.0 480.3,230.4 479.4,230.8 478.5,231.2 477.6,231.6 476.6,232.0 475.7,232.4 474.8,232.8 473.9,233.2 473.0,233.6 472.0,234.0 471.1,234.4 470.2,234.8 469.2,235.1 468.3,235.5 467.4,235.9 466.4,236.3 465.5,236.6 464.5,237.0 463.6,237.4 462.7,237.7 461.7,238.1 460.8,238.4 459.8,238.8 458.9,239.1 457.9,239.4 457.0,239.8 456.0,240.1 455.1,240.4 454.1,240.7 453.2,241.1 452.2,241.4 451.3,241.7 450.3,242.0 449.3,242.3 448.4,242.5 447.4,242.8 446.4,243.1 445.5,243.4 444.5,243.7 443.5,243.9 442.6,244.2 441.6,244.4 440.6,244.7 439.7,244.9 438.7,245.2 437.7,245.4 436.7,245.6 435.8,245.9 434.8,246.1 433.8,246.3 432.8,246.5 431.8,246.7 430.9,246.9 429.9,247.1 428.9,247.3 427.9,247.5 426.9,247.7 425.9,247.9 425.0,248.1 424.0,248.3 423.0,248.4 422.0,248.6 421.0,248.8 420.0,248.9 419.0,249.1 418.0,249.2 417.0,249.4 416.0,249.5 415.0,249.7 414.1,249.8 413.1,249.9 412.1,250.1 411.1,250.2 410.1,250.3 409.1,250.4 408.1,250.6 407.1,250.7 406.1,250.8 405.1,250.9 404.1,251.0 403.1,251.1 402.1,251.2 401.1,251.3 400.1,251.4 399.1,251.5 398.1,251.6 397.1,251.6 396.1,251.7 395.1,251.8 394.0,251.9 393.0,251.9 392.0,252.0 391.0,252.1 390.0,252.1 389.0,252.2 388.0,252.2 387.0,252.3 386.0,252.3 385.0,252.4 384.0,252.4 383.0,252.5 382.0,252.5 381.0,252.5 380.0,252.6 379.0,252.6" fill="#00ee00"/>
<polyline points="475.8,23.3 476.0,24.3 476.2,25.3 476.4,26.3 476.6,27.3 476.8,28.3 477.0,29.3 477.2,30.2 477.4,31.2 477.6,32.2 477.8,33.2 478.0,34.2 478.2,35.2 478.4,36.2 478.6,37.2 478.8,38.2 479.0,39.2 479.2,40.2 479.4,41.2 479.6,42.1 479.8,43.1 480.0,44.1 480.2,45.1 480.4,46.1 480.6,47.1 480.8,48.1 481.0,49.1 481.2,50.1 481.4,51.0 481.6,52.0 481.8,53.0 482.0,54.0 482.2,55.0 482.4,56.0 482.6,57.0 482.8,58.0 483.0,58.9 483.2,59.9 483.4,60.9 483.6,61.9 483.8,62.9 484.0,63.9 484.2,64.9 484.4,65.8 484.6,66.8 484.8,67.8 485.0,68.8 485.2,69.8 485.4,70.8 485.6,71.7 485.8,72.7 486.0,73.7 486.3,74.7 486.5,75.7 486.7,76.6 486.9,77.6 487.1,78.6 487.3,79.6 487.5,80.6 487.7,81.6 487.9,82.5 488.2,83.5 488.4,84.5 488.6,85.5 488.8,86.4 489.0,87.4 489.2,88.4 489.5,89.4 489.7,90.4 489.9,91.3 490.1,92.3 490.3,93.3 490.6,94.3 490.8,95.2 491.0,96.2 491.2,97.2 491.5,98.2 491.7,99.1 491.9,100.1 492.2,101.1 492.4,102.1 492.6,103.0 492.9,104.0 493.1,105.0 493.3,106.0 493.6,106.9 493.8,107.9 494.0,108.9 494.3,109.9 494.5,110.8 494.8,111.8 495.0,112.8 495.2,113.7 495.5,114.7 495.7,115.7 496.0,116.7 496.2,117.6 496.5,118.6 496.7,119.6 497.0,120.5 497.2,121.5 497.5,122.5 497.8,123.4 498.0,124.4 498.3,125.4 498.5,126.3 498.8,127.3 499.1,128.3 499.3,129.2 499.6,130.2 499.9,131.2 500.1,132.1 500.4,133.1 500.7,134.1 501.0,135.0 501.2,136.0 501.5,136.9 501.8,137.9 502.1,138.9 502.4,139.8 502.6,140.8 502.9,141.8 503.2,142.7 503.5,143.7 503.8,144.6 504.1,145.6 504.4,146.6 504.7,147.5 505.0,148.5 505.3,149.4 505.6,150.4 505.9,151.3 506.2,152.3 506.5,153.3 506.8,154.2 507.1,155.2 507.4,156.1 507.7,157.1 508.1,158.0 508.4,159.0 508.7,159.9 509.0,160.9 509.3,161.9 509.7,162.8 510.0,163.8 510.3,164.7 510.7,165.7 511.0,166.6 511.3,167.6 511.7,168.5 512.0,169.5 512.3,170.4 512.7,171.4 513.0,172.3 513.4,173.3 513.7,174.2 514.1,175.2 514.5,176.1 514.8,177.1 515.2,178.0 515.5,179.0 515.9,179.9 516.3,180.9 516.6,181.8 517.0,182.7 517.4,183.7 517.8,184.6 518.1,185.6 518.5,186.5 518.9,187.5 519.3,188.4 519.7,189.3 520.1,190.3 520.5,191.2 520.9,192.2 521.3,193.1 521.7,194.1 522.1,195.0 522.5,195.9 522.9,196.9 523.3,197.8 523.7,198.7 524.1,199.7 524.6,200.6 525.0,201.5 525.4,202.5 525.9,203.4 526.3,204.3 526.7,205.2 527.2,206.1 527.6,207.1 528.1,208.0 528.5,208.9 529.0,209.8 529.5,210.7 530.0,211.6 530.4,212.5 530.9,213.4 531.4,214.2 531.9,215.1 532.4,216.0 532.9,216.9 533.4,217.7 534.0,218.6 534.5,219.5 535.0,220.3 535.6,221.1 536.1,222.0 536.7,222.8 537.2,223.6 537.8,224.5 538.4,225.3 538.9,226.1 539.5,226.9 540.1,227.7 540.7,228.5 541.3,229.2 542.0,230.0 542.6,230.8 543.2,231.5 543.9,232.3 544.5,233.0 545.2,233.8 545.8,234.5 546.5,235.2 547.2,235.9 547.9,236.6 548.6,237.3 549.3,238.0 550.0,238.6 550.8,239.3 551.5,239.9 552.3,240.6 553.0,241.2 553.8,241.8 554.6,242.4 555.4,243.0 556.2,243.6 557.0,244.2 557.8,244.7 558.6,245.3 559.5,245.8 560.3,246.4 561.2,246.9 562.1,247.4 562.9,247.9 563.8,248.3 564.7,248.8 565.6,249.3 566.6,249.7 567.5,250.1 568.4,250.5 569.4,250.9 570.3,251.3 571.3,251.6 572.2,251.9 573.2,252.3 574.2,252.6 575.1,252.9 576.1,253.1 577.1,253.4 578.1,253.6 579.1,253.8 580.1,254.0 581.1,254.2 582.1,254.3 583.1,254.5 584.1,254.6 585.2,254.7 586.2,254.8 587.2,254.9 588.2,255.0 589.2,255.1 590.2,255.1 591.3,255.2 592.3,255.2 593.3,255.2 594.3,255.2 595.3,255.2 596.3,255.2 597.3,255.2 598.4,255.2 599.4,255.1 600.4,255.1 601.4,255.0 602.4,255.0 603.3,254.9 604.3,254.9 605.3,254.8" fill="none" stroke="#ff0000" stroke-width="1.10" stroke-linejoin="round" /></g>
<rect x="378.90" y="23.40" width="226.45" height="231.60" fill="none" stroke="#111" stroke-width="1.0"/>
<text transform="translate(368.03 258.35) scale(1.1200 1)" font-size="11.40" fill="#111" stroke="none">0</text>
<text transform="translate(357.74 219.75) scale(1.1200 1)" font-size="11.40" fill="#111" stroke="none">0.2</text>
<text transform="translate(357.93 181.15) scale(1.1200 1)" font-size="11.40" fill="#111" stroke="none">0.4</text>
<text transform="translate(358.12 142.55) scale(1.1200 1)" font-size="11.40" fill="#111" stroke="none">0.6</text>
<text transform="translate(358.30 103.95) scale(1.1200 1)" font-size="11.40" fill="#111" stroke="none">0.8</text>
<text transform="translate(366.58 65.35) scale(1.1200 1)" font-size="11.40" fill="#111" stroke="none">1</text>
<text transform="translate(358.14 26.75) scale(1.1200 1)" font-size="11.40" fill="#111" stroke="none">1.2</text>
<text transform="translate(361.21 268.75) scale(1.0642 1)" font-size="11.40" fill="#111" stroke="none">0.0001</text>
<text transform="translate(419.63 268.75) scale(1.0649 1)" font-size="11.40" fill="#111" stroke="none">0.001</text>
<text transform="translate(479.71 268.75) scale(1.1217 1)" font-size="11.40" fill="#111" stroke="none">0.01</text>
<text transform="translate(540.55 268.75) scale(1.0755 1)" font-size="11.40" fill="#111" stroke="none">0.1</text>
<text transform="translate(602.94 268.75) scale(1.0378 1)" font-size="11.40" fill="#111" stroke="none">1</text>
<text transform="translate(500.48 118.58) scale(1.2029 1)" font-size="10.55" fill="#ff0000" stroke="none" font-weight="bold">g</text>
<text transform="translate(508.00 121.43) scale(1.0292 1)" font-size="17.31" fill="#ff0000" stroke="none">/</text>
<text transform="translate(513.41 118.98) scale(1.0667 1)" font-size="12.00" fill="#ff0000" stroke="none">10</text>
<text transform="translate(548.41 151.77) scale(0.9874 1)" font-size="12.98" fill="#0000ff" stroke="none" font-weight="bold">u</text>
<text transform="translate(555.60 152.56) scale(1.1067 1)" font-size="9.10" fill="#0000ff" stroke="none" font-style="italic">V</text>
<text transform="translate(547.86 204.38) scale(1.1168 1)" font-size="12.06" fill="#00ee00" stroke="none" font-weight="bold">d</text>
<text transform="translate(556.11 205.07) scale(1.1690 1)" font-size="8.36" fill="#00ee00" stroke="none" font-style="italic">V</text>
<text transform="translate(551.38 232.48) scale(1.0470 1)" font-size="12.48" fill="#2fcc2f" stroke="none" font-weight="bold">d</text>
<rect x="551.00" y="222.20" width="8.10" height="0.85" fill="#2fcc2f"/>
<text transform="translate(526.80 230.89) scale(1.2412 1)" font-size="10.64" fill="#0000cc" stroke="none" font-weight="bold">u</text>
<rect x="526.00" y="223.90" width="7.80" height="0.85" fill="#0000cc"/>
<text transform="translate(473.13 93.39) scale(1.3547 1)" font-size="11.46" fill="#5ccccc" stroke="none" font-weight="bold">s</text>
<text transform="translate(458.06 142.39) scale(1.3374 1)" font-size="11.46" fill="#ff00ff" stroke="none" font-weight="bold">c</text>
<text transform="translate(451.17 165.27) scale(1.0548 1)" font-size="12.77" fill="#11e8e8" stroke="none" font-weight="bold">b</text>
<text transform="translate(64.66 13.55) scale(1.0360 1)" font-size="14.20" fill="#1a1a1a" stroke="none">MMHT14</text>
<text transform="translate(130.36 13.55) scale(1.0407 1)" font-size="14.20" fill="#1a1a1a" stroke="none">NNLO,</text>
<text transform="translate(179.26 13.55) scale(1.2026 1)" font-size="14.20" fill="#1a1a1a" stroke="none" font-style="italic">Q</text>
<text transform="translate(191.64 8.20) scale(1.0789 1)" font-size="9.50" fill="#1a1a1a" stroke="none">2</text>
<text transform="translate(200.12 12.70) scale(1.3782 1)" font-size="14.20" fill="#1a1a1a" stroke="none">=</text>
<text transform="translate(215.51 13.55) scale(0.9899 1)" font-size="14.20" fill="#1a1a1a" stroke="none">10</text>
<text transform="translate(229.69 13.55) scale(1.0822 1)" font-size="14.20" fill="#1a1a1a" stroke="none">GeV</text>
<text transform="translate(258.65 8.20) scale(1.5263 1)" font-size="9.50" fill="#1a1a1a" stroke="none">2</text>
<text transform="translate(379.76 13.55) scale(1.0360 1)" font-size="14.20" fill="#1a1a1a" stroke="none">MMHT14</text>
<text transform="translate(445.46 13.55) scale(1.0407 1)" font-size="14.20" fill="#1a1a1a" stroke="none">NNLO,</text>
<text transform="translate(493.55 13.55) scale(1.2134 1)" font-size="14.20" fill="#1a1a1a" stroke="none" font-style="italic">Q</text>
<text transform="translate(506.02 8.20) scale(1.1316 1)" font-size="9.50" fill="#1a1a1a" stroke="none">2</text>
<text transform="translate(514.89 12.70) scale(1.5599 1)" font-size="14.20" fill="#1a1a1a" stroke="none">=</text>
<text transform="translate(529.51 13.55) scale(0.9014 1)" font-size="14.20" fill="#1a1a1a" stroke="none">10</text>
<text transform="translate(542.55 8.20) scale(0.9055 1)" font-size="8.07" fill="#1a1a1a" stroke="none">4</text>
<text transform="translate(552.40 13.55) scale(1.0554 1)" font-size="14.20" fill="#1a1a1a" stroke="none">GeV</text>
<text transform="translate(580.83 8.20) scale(1.3421 1)" font-size="9.50" fill="#1a1a1a" stroke="none">2</text>
<text transform="translate(0.90 43.10) scale(1.2565 1)" font-size="10.43" fill="#1a1a1a" stroke="#1a1a1a" stroke-width="0.25" font-style="italic">x</text>
<text transform="translate(7.44 42.93) scale(1.3469 1)" font-size="11.96" fill="#1a1a1a" stroke="#1a1a1a" stroke-width="0.25" font-style="italic">f</text>
<text transform="translate(14.88 43.34) scale(1.0322 1)" font-size="13.30" fill="#1a1a1a" stroke="#1a1a1a" stroke-width="0.25">(</text>
<text transform="translate(20.20 43.10) scale(1.2565 1)" font-size="10.43" fill="#1a1a1a" stroke="#1a1a1a" stroke-width="0.25" font-style="italic">x</text>
<text transform="translate(26.83 43.14) scale(0.8542 1)" font-size="13.73" fill="#1a1a1a" stroke="#1a1a1a" stroke-width="0.25">,</text>
<text transform="translate(32.41 43.23) scale(0.9640 1)" font-size="12.93" fill="#1a1a1a" stroke="#1a1a1a" stroke-width="0.25" font-style="italic">Q</text>
<text transform="translate(42.35 37.50) scale(1.5000 1)" font-size="6.67" fill="#1a1a1a" stroke="#1a1a1a" stroke-width="0.25">2</text>
<text transform="translate(48.04 43.09) scale(0.9118 1)" font-size="13.08" fill="#1a1a1a" stroke="#1a1a1a" stroke-width="0.25">)</text>
<text transform="translate(316.20 43.10) scale(1.2565 1)" font-size="10.43" fill="#1a1a1a" stroke="#1a1a1a" stroke-width="0.25" font-style="italic">x</text>
<text transform="translate(322.74 42.93) scale(1.3469 1)" font-size="11.96" fill="#1a1a1a" stroke="#1a1a1a" stroke-width="0.25" font-style="italic">f</text>
<text transform="translate(330.18 43.34) scale(1.0322 1)" font-size="13.30" fill="#1a1a1a" stroke="#1a1a1a" stroke-width="0.25">(</text>
<text transform="translate(335.50 43.10) scale(1.2565 1)" font-size="10.43" fill="#1a1a1a" stroke="#1a1a1a" stroke-width="0.25" font-style="italic">x</text>
<text transform="translate(342.13 43.14) scale(0.8542 1)" font-size="13.73" fill="#1a1a1a" stroke="#1a1a1a" stroke-width="0.25">,</text>
<text transform="translate(347.71 43.23) scale(0.9640 1)" font-size="12.93" fill="#1a1a1a" stroke="#1a1a1a" stroke-width="0.25" font-style="italic">Q</text>
<text transform="translate(357.65 37.50) scale(1.5000 1)" font-size="6.67" fill="#1a1a1a" stroke="#1a1a1a" stroke-width="0.25">2</text>
<text transform="translate(363.34 43.09) scale(0.9118 1)" font-size="13.08" fill="#1a1a1a" stroke="#1a1a1a" stroke-width="0.25">)</text>
<text transform="translate(172.77 285.00) scale(1.2738 1)" font-size="14.13" fill="#1a1a1a" stroke="#1a1a1a" stroke-width="0.25" font-style="italic">x</text>
<text transform="translate(487.67 285.00) scale(1.2738 1)" font-size="14.13" fill="#1a1a1a" stroke="#1a1a1a" stroke-width="0.25" font-style="italic">x</text>
</svg>
</body></html>
